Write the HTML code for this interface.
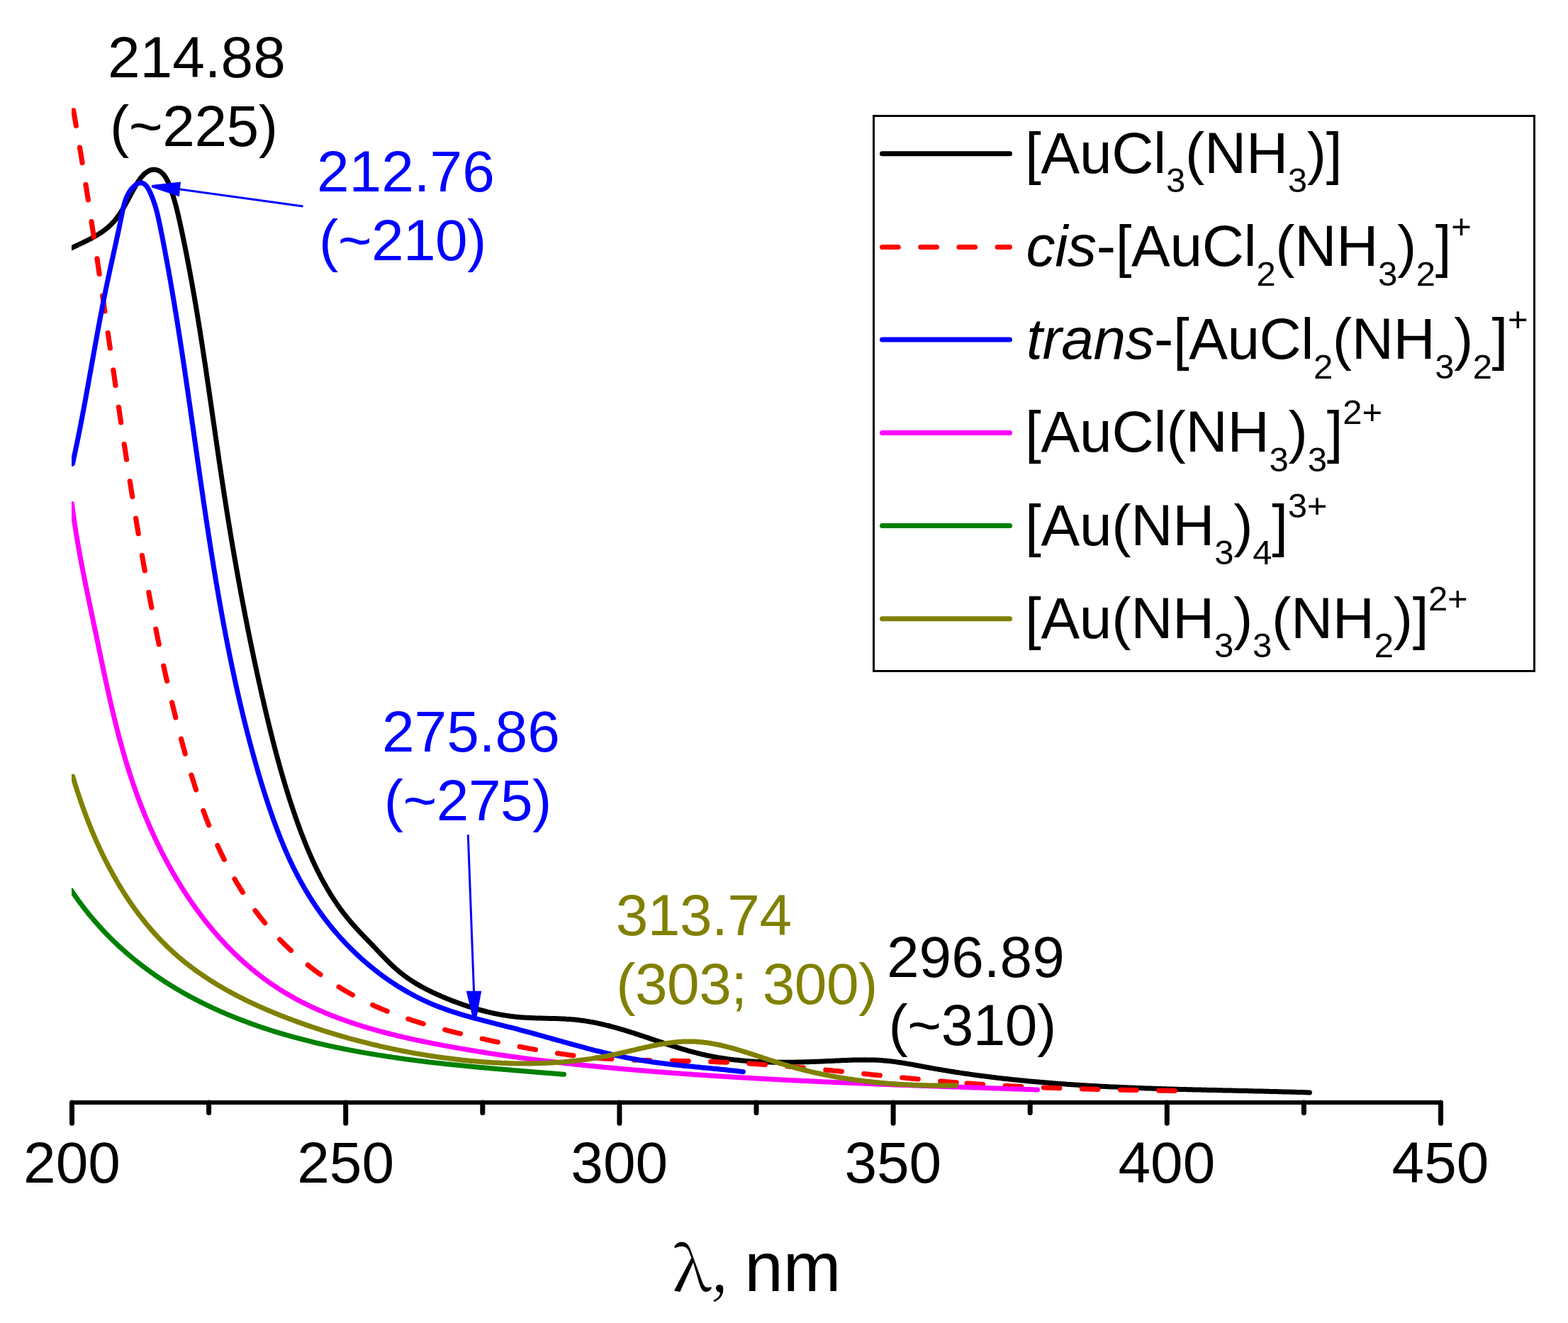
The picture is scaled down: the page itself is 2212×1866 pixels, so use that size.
<!DOCTYPE html>
<html><head><meta charset="utf-8"><title>UV-Vis spectra</title>
<style>
html,body{margin:0;padding:0;background:#fff;}
body{width:2212px;height:1866px;overflow:hidden;}
svg{display:block;}
text{font-family:"Liberation Sans",Arial,Helvetica,sans-serif;}
</style></head><body>
<svg xmlns="http://www.w3.org/2000/svg" width="2212" height="1866" viewBox="0 0 2212 1866">
<rect x="0" y="0" width="2212" height="1866" fill="#fff"/>
<defs><clipPath id="plotclip"><rect x="101" y="148" width="1940" height="1404"/></clipPath></defs>
<g clip-path="url(#plotclip)">
<path d="M101.07,349.7 L102.88,348.9 L104.69,348.0 L106.50,347.1 L108.31,346.3 L110.12,345.4 L111.93,344.6 L113.74,343.7 L115.55,342.9 L117.36,342.0 L119.16,341.1 L120.95,340.2 L122.75,339.3 L124.53,338.4 L126.31,337.5 L128.09,336.6 L129.85,335.6 L131.61,334.7 L133.35,333.7 L135.09,332.7 L136.81,331.7 L138.52,330.6 L140.21,329.6 L141.89,328.5 L143.56,327.4 L145.20,326.2 L146.82,325.0 L148.42,323.8 L150.00,322.6 L151.54,321.3 L153.06,320.0 L154.55,318.7 L156.00,317.3 L157.42,315.9 L158.81,314.4 L160.15,313.0 L161.47,311.4 L162.75,309.9 L164.00,308.3 L165.22,306.7 L166.41,305.1 L167.57,303.5 L168.71,301.9 L169.82,300.2 L170.90,298.5 L171.97,296.8 L173.02,295.1 L174.04,293.4 L175.06,291.7 L176.05,289.9 L177.04,288.2 L178.01,286.4 L178.98,284.7 L179.94,282.9 L180.89,281.2 L181.84,279.4 L182.79,277.6 L183.74,275.9 L184.68,274.1 L185.64,272.3 L186.59,270.6 L187.55,268.8 L188.52,267.1 L189.49,265.3 L190.48,263.6 L191.47,261.8 L192.49,260.1 L193.52,258.4 L194.58,256.7 L195.67,255.0 L196.81,253.4 L197.99,251.7 L199.22,250.2 L200.51,248.6 L201.86,247.2 L203.28,245.7 L204.78,244.4 L206.36,243.2 L208.01,242.0 L209.75,241.1 L211.57,240.2 L213.48,239.6 L215.45,239.2 L217.44,239.2 L219.44,239.3 L221.39,239.8 L223.28,240.4 L225.07,241.3 L226.75,242.4 L228.31,243.7 L229.75,245.1 L231.07,246.6 L232.29,248.2 L233.41,249.8 L234.44,251.5 L235.41,253.3 L236.31,255.1 L237.16,256.9 L237.96,258.7 L238.73,260.6 L239.46,262.4 L240.16,264.3 L240.84,266.2 L241.50,268.1 L242.14,270.0 L242.78,271.9 L243.40,273.8 L244.00,275.7 L244.59,277.6 L245.17,279.5 L245.74,281.5 L246.29,283.4 L246.84,285.3 L247.37,287.2 L247.89,289.2 L248.40,291.1 L248.90,293.0 L249.39,295.0 L249.87,296.9 L250.34,298.9 L250.81,300.8 L251.26,302.8 L251.72,304.7 L252.16,306.7 L252.60,308.6 L253.04,310.6 L253.47,312.5 L253.90,314.5 L254.33,316.5 L254.75,318.4 L255.18,320.4 L255.60,322.3 L256.02,324.3 L256.44,326.2 L256.85,328.2 L257.26,330.2 L257.68,332.1 L258.09,334.1 L258.49,336.0 L258.90,338.0 L259.30,340.0 L259.71,341.9 L260.11,343.9 L260.51,345.9 L260.90,347.8 L261.30,349.8 L261.69,351.7 L262.08,353.7 L262.47,355.7 L262.86,357.6 L263.25,359.6 L263.63,361.6 L264.01,363.5 L264.40,365.5 L264.77,367.5 L265.15,369.4 L265.53,371.4 L265.90,373.4 L266.28,375.3 L266.65,377.3 L267.02,379.3 L267.39,381.2 L267.75,383.2 L268.12,385.2 L268.48,387.2 L268.85,389.1 L269.21,391.1 L269.57,393.1 L269.92,395.0 L270.28,397.0 L270.64,399.0 L270.99,400.9 L271.34,402.9 L271.69,404.9 L272.04,406.9 L272.39,408.8 L272.74,410.8 L273.08,412.8 L273.43,414.8 L273.77,416.7 L274.11,418.7 L274.45,420.7 L274.79,422.6 L275.13,424.6 L275.46,426.6 L275.80,428.6 L276.13,430.5 L276.47,432.5 L276.80,434.5 L277.13,436.5 L277.46,438.4 L277.79,440.4 L278.12,442.4 L278.44,444.4 L278.77,446.3 L279.09,448.3 L279.42,450.3 L279.74,452.3 L280.06,454.3 L280.38,456.2 L280.70,458.2 L281.02,460.2 L281.33,462.2 L281.65,464.1 L281.97,466.1 L282.28,468.1 L282.59,470.1 L282.91,472.1 L283.22,474.0 L283.53,476.0 L283.84,478.0 L284.15,480.0 L284.46,481.9 L284.76,483.9 L285.07,485.9 L285.38,487.9 L285.68,489.9 L285.99,491.8 L286.29,493.8 L286.59,495.8 L286.90,497.8 L287.20,499.8 L287.50,501.7 L287.80,503.7 L288.10,505.7 L288.40,507.7 L288.70,509.7 L289.00,511.6 L289.29,513.6 L289.59,515.6 L289.89,517.6 L290.18,519.6 L290.48,521.5 L290.77,523.5 L291.07,525.5 L291.36,527.5 L291.65,529.5 L291.95,531.5 L292.24,533.4 L292.53,535.4 L292.82,537.4 L293.11,539.4 L293.41,541.4 L293.70,543.3 L293.99,545.3 L294.28,547.3 L294.57,549.3 L294.85,551.3 L295.14,553.3 L295.43,555.2 L295.72,557.2 L296.01,559.2 L296.30,561.2 L296.58,563.2 L296.87,565.1 L297.16,567.1 L297.44,569.1 L297.73,571.1 L298.02,573.1 L298.30,575.1 L298.59,577.0 L298.88,579.0 L299.16,581.0 L299.45,583.0 L299.74,585.0 L300.02,586.9 L300.31,588.9 L300.59,590.9 L300.88,592.9 L301.17,594.9 L301.45,596.9 L301.74,598.8 L302.02,600.8 L302.31,602.8 L302.60,604.8 L302.88,606.8 L303.17,608.8 L303.45,610.7 L303.74,612.7 L304.03,614.7 L304.31,616.7 L304.60,618.7 L304.89,620.6 L305.18,622.6 L305.46,624.6 L305.75,626.6 L306.04,628.6 L306.33,630.6 L306.62,632.5 L306.91,634.5 L307.20,636.5 L307.48,638.5 L307.77,640.5 L308.06,642.4 L308.36,644.4 L308.65,646.4 L308.94,648.4 L309.23,650.4 L309.52,652.4 L309.81,654.3 L310.11,656.3 L310.40,658.3 L310.69,660.3 L310.99,662.3 L311.28,664.2 L311.58,666.2 L311.87,668.2 L312.17,670.2 L312.47,672.2 L312.77,674.1 L313.06,676.1 L313.36,678.1 L313.66,680.1 L313.96,682.1 L314.26,684.0 L314.56,686.0 L314.87,688.0 L315.17,690.0 L315.47,692.0 L315.78,693.9 L316.08,695.9 L316.39,697.9 L316.69,699.9 L317.00,701.9 L317.31,703.8 L317.62,705.8 L317.93,707.8 L318.24,709.8 L318.55,711.8 L318.86,713.7 L319.17,715.7 L319.49,717.7 L319.80,719.7 L320.11,721.6 L320.43,723.6 L320.75,725.6 L321.06,727.6 L321.38,729.6 L321.70,731.5 L322.02,733.5 L322.34,735.5 L322.66,737.5 L322.98,739.4 L323.31,741.4 L323.63,743.4 L323.96,745.4 L324.28,747.3 L324.61,749.3 L324.93,751.3 L325.26,753.3 L325.59,755.3 L325.92,757.2 L326.25,759.2 L326.58,761.2 L326.92,763.2 L327.25,765.1 L327.58,767.1 L327.92,769.1 L328.25,771.1 L328.59,773.0 L328.93,775.0 L329.27,777.0 L329.60,778.9 L329.94,780.9 L330.29,782.9 L330.63,784.9 L330.97,786.8 L331.31,788.8 L331.66,790.8 L332.00,792.8 L332.35,794.7 L332.70,796.7 L333.04,798.7 L333.39,800.7 L333.74,802.6 L334.09,804.6 L334.45,806.6 L334.80,808.5 L335.15,810.5 L335.51,812.5 L335.86,814.5 L336.22,816.4 L336.58,818.4 L336.93,820.4 L337.29,822.3 L337.65,824.3 L338.01,826.3 L338.38,828.2 L338.74,830.2 L339.10,832.2 L339.47,834.2 L339.83,836.1 L340.20,838.1 L340.57,840.1 L340.94,842.0 L341.31,844.0 L341.68,846.0 L342.05,847.9 L342.42,849.9 L342.79,851.9 L343.17,853.8 L343.54,855.8 L343.92,857.8 L344.30,859.7 L344.68,861.7 L345.06,863.7 L345.44,865.6 L345.82,867.6 L346.20,869.6 L346.58,871.5 L346.97,873.5 L347.35,875.5 L347.74,877.4 L348.13,879.4 L348.52,881.4 L348.90,883.3 L349.30,885.3 L349.69,887.3 L350.08,889.2 L350.47,891.2 L350.87,893.1 L351.26,895.1 L351.66,897.1 L352.06,899.0 L352.46,901.0 L352.86,903.0 L353.26,904.9 L353.66,906.9 L354.06,908.8 L354.47,910.8 L354.87,912.8 L355.28,914.7 L355.68,916.7 L356.09,918.7 L356.50,920.6 L356.91,922.6 L357.32,924.5 L357.74,926.5 L358.15,928.5 L358.57,930.4 L358.98,932.4 L359.40,934.3 L359.82,936.3 L360.24,938.2 L360.66,940.2 L361.08,942.2 L361.50,944.1 L361.92,946.1 L362.35,948.0 L362.77,950.0 L363.20,952.0 L363.63,953.9 L364.06,955.9 L364.49,957.8 L364.92,959.8 L365.35,961.7 L365.79,963.7 L366.22,965.6 L366.66,967.6 L367.09,969.6 L367.53,971.5 L367.97,973.5 L368.41,975.4 L368.85,977.4 L369.30,979.3 L369.74,981.3 L370.18,983.2 L370.63,985.2 L371.08,987.1 L371.53,989.1 L371.98,991.0 L372.43,993.0 L372.88,994.9 L373.33,996.9 L373.79,998.8 L374.24,1000.8 L374.70,1002.7 L375.16,1004.7 L375.62,1006.6 L376.08,1008.6 L376.54,1010.5 L377.01,1012.5 L377.48,1014.4 L377.94,1016.4 L378.41,1018.3 L378.88,1020.3 L379.36,1022.2 L379.83,1024.2 L380.31,1026.1 L380.78,1028.1 L381.26,1030.0 L381.74,1031.9 L382.23,1033.9 L382.71,1035.8 L383.20,1037.8 L383.69,1039.7 L384.18,1041.7 L384.67,1043.6 L385.17,1045.5 L385.67,1047.5 L386.16,1049.4 L386.67,1051.4 L387.17,1053.3 L387.68,1055.2 L388.18,1057.2 L388.69,1059.1 L389.21,1061.0 L389.72,1063.0 L390.24,1064.9 L390.76,1066.8 L391.28,1068.8 L391.81,1070.7 L392.33,1072.6 L392.86,1074.6 L393.40,1076.5 L393.93,1078.4 L394.47,1080.4 L395.01,1082.3 L395.55,1084.2 L396.10,1086.2 L396.64,1088.1 L397.20,1090.0 L397.75,1091.9 L398.31,1093.9 L398.87,1095.8 L399.43,1097.7 L399.99,1099.6 L400.56,1101.5 L401.13,1103.5 L401.71,1105.4 L402.29,1107.3 L402.87,1109.2 L403.45,1111.1 L404.04,1113.0 L404.63,1115.0 L405.22,1116.9 L405.82,1118.8 L406.41,1120.7 L407.02,1122.6 L407.62,1124.5 L408.23,1126.4 L408.85,1128.3 L409.46,1130.2 L410.08,1132.1 L410.71,1134.0 L411.33,1135.9 L411.96,1137.8 L412.60,1139.7 L413.23,1141.6 L413.87,1143.5 L414.52,1145.4 L415.17,1147.3 L415.82,1149.2 L416.47,1151.1 L417.13,1153.0 L417.80,1154.9 L418.46,1156.8 L419.13,1158.7 L419.81,1160.6 L420.49,1162.4 L421.17,1164.3 L421.86,1166.2 L422.55,1168.1 L423.24,1170.0 L423.94,1171.8 L424.65,1173.7 L425.35,1175.6 L426.07,1177.5 L426.78,1179.3 L427.51,1181.2 L428.24,1183.1 L428.97,1184.9 L429.71,1186.8 L430.45,1188.7 L431.20,1190.5 L431.96,1192.4 L432.72,1194.2 L433.48,1196.1 L434.26,1197.9 L435.03,1199.8 L435.82,1201.6 L436.61,1203.4 L437.41,1205.3 L438.21,1207.1 L439.02,1208.9 L439.84,1210.8 L440.66,1212.6 L441.49,1214.4 L442.33,1216.2 L443.17,1218.1 L444.02,1219.9 L444.88,1221.7 L445.75,1223.5 L446.62,1225.3 L447.51,1227.1 L448.39,1228.9 L449.29,1230.7 L450.20,1232.5 L451.11,1234.2 L452.03,1236.0 L452.96,1237.8 L453.90,1239.6 L454.84,1241.3 L455.80,1243.1 L456.76,1244.8 L457.73,1246.6 L458.71,1248.3 L459.70,1250.1 L460.70,1251.8 L461.71,1253.6 L462.72,1255.3 L463.75,1257.0 L464.79,1258.7 L465.83,1260.4 L466.88,1262.1 L467.95,1263.8 L469.02,1265.5 L470.10,1267.2 L471.20,1268.9 L472.30,1270.5 L473.41,1272.2 L474.54,1273.9 L475.67,1275.5 L476.81,1277.2 L477.97,1278.8 L479.13,1280.4 L480.30,1282.1 L481.49,1283.7 L482.68,1285.3 L483.89,1286.9 L485.10,1288.5 L486.33,1290.1 L487.57,1291.6 L488.81,1293.2 L490.07,1294.8 L491.34,1296.3 L492.62,1297.8 L493.91,1299.4 L495.21,1300.9 L496.53,1302.4 L497.85,1303.9 L499.18,1305.4 L500.51,1306.9 L501.86,1308.4 L503.21,1309.9 L504.57,1311.3 L505.94,1312.8 L507.31,1314.3 L508.68,1315.7 L510.06,1317.2 L511.44,1318.6 L512.83,1320.1 L514.22,1321.5 L515.61,1323.0 L517.00,1324.4 L518.40,1325.8 L519.79,1327.3 L521.19,1328.7 L522.58,1330.1 L523.97,1331.6 L525.37,1333.0 L526.76,1334.5 L528.15,1335.9 L529.53,1337.4 L530.91,1338.8 L532.29,1340.3 L533.67,1341.7 L535.05,1343.2 L536.43,1344.6 L537.81,1346.1 L539.20,1347.5 L540.58,1349.0 L541.97,1350.4 L543.37,1351.8 L544.77,1353.3 L546.17,1354.7 L547.59,1356.1 L549.01,1357.5 L550.44,1358.9 L551.88,1360.3 L553.33,1361.7 L554.79,1363.1 L556.26,1364.4 L557.74,1365.8 L559.24,1367.1 L560.75,1368.4 L562.28,1369.7 L563.82,1371.0 L565.37,1372.3 L566.94,1373.5 L568.53,1374.7 L570.12,1375.9 L571.73,1377.1 L573.36,1378.3 L574.99,1379.5 L576.64,1380.6 L578.30,1381.7 L579.97,1382.8 L581.65,1383.9 L583.34,1385.0 L585.05,1386.0 L586.76,1387.1 L588.48,1388.1 L590.21,1389.1 L591.94,1390.1 L593.69,1391.1 L595.44,1392.1 L597.20,1393.0 L598.97,1393.9 L600.75,1394.9 L602.53,1395.8 L604.32,1396.7 L606.11,1397.6 L607.91,1398.5 L609.72,1399.3 L611.53,1400.2 L613.35,1401.0 L615.17,1401.9 L616.99,1402.7 L618.82,1403.5 L620.66,1404.3 L622.50,1405.1 L624.34,1405.9 L626.18,1406.7 L628.03,1407.4 L629.89,1408.2 L631.74,1408.9 L633.60,1409.7 L635.46,1410.4 L637.33,1411.2 L639.20,1411.9 L641.07,1412.6 L642.94,1413.3 L644.82,1414.0 L646.70,1414.7 L648.58,1415.4 L650.47,1416.0 L652.36,1416.7 L654.25,1417.4 L656.15,1418.0 L658.05,1418.6 L659.95,1419.3 L661.85,1419.9 L663.76,1420.5 L665.67,1421.1 L667.59,1421.7 L669.51,1422.3 L671.43,1422.8 L673.35,1423.4 L675.28,1423.9 L677.21,1424.5 L679.14,1425.0 L681.07,1425.5 L683.01,1426.0 L684.95,1426.5 L686.90,1427.0 L688.85,1427.4 L690.80,1427.9 L692.75,1428.4 L694.70,1428.8 L696.66,1429.2 L698.62,1429.6 L700.58,1430.0 L702.55,1430.4 L704.52,1430.8 L706.49,1431.1 L708.46,1431.5 L710.44,1431.8 L712.41,1432.1 L714.39,1432.4 L716.37,1432.7 L718.36,1433.0 L720.34,1433.3 L722.33,1433.5 L724.32,1433.8 L726.31,1434.0 L728.30,1434.2 L730.29,1434.4 L732.29,1434.6 L734.28,1434.7 L736.28,1434.9 L738.28,1435.0 L740.28,1435.2 L742.28,1435.3 L744.28,1435.4 L746.28,1435.5 L748.28,1435.6 L750.28,1435.7 L752.28,1435.8 L754.28,1435.8 L756.28,1435.9 L758.28,1436.0 L760.29,1436.0 L762.29,1436.1 L764.29,1436.1 L766.29,1436.2 L768.29,1436.2 L770.30,1436.3 L772.30,1436.3 L774.30,1436.4 L776.30,1436.4 L778.31,1436.5 L780.31,1436.5 L782.31,1436.6 L784.31,1436.6 L786.31,1436.7 L788.32,1436.8 L790.32,1436.8 L792.32,1436.9 L794.32,1437.0 L796.32,1437.1 L798.32,1437.2 L800.32,1437.4 L802.32,1437.5 L804.31,1437.6 L806.31,1437.8 L808.31,1437.9 L810.30,1438.1 L812.30,1438.3 L814.29,1438.5 L816.28,1438.7 L818.27,1439.0 L820.25,1439.2 L822.24,1439.5 L824.22,1439.8 L826.20,1440.1 L828.18,1440.4 L830.16,1440.7 L832.13,1441.1 L834.10,1441.4 L836.07,1441.8 L838.04,1442.1 L840.00,1442.5 L841.96,1442.9 L843.92,1443.4 L845.88,1443.8 L847.84,1444.2 L849.79,1444.7 L851.74,1445.1 L853.69,1445.6 L855.63,1446.1 L857.58,1446.5 L859.52,1447.0 L861.45,1447.5 L863.39,1448.1 L865.32,1448.6 L867.26,1449.1 L869.19,1449.6 L871.11,1450.2 L873.04,1450.7 L874.96,1451.3 L876.88,1451.9 L878.80,1452.4 L880.72,1453.0 L882.64,1453.6 L884.55,1454.2 L886.47,1454.8 L888.38,1455.4 L890.29,1456.0 L892.20,1456.6 L894.10,1457.2 L896.01,1457.8 L897.92,1458.4 L899.82,1459.0 L901.72,1459.7 L903.63,1460.3 L905.53,1460.9 L907.43,1461.5 L909.33,1462.2 L911.23,1462.8 L913.13,1463.4 L915.03,1464.1 L916.93,1464.7 L918.82,1465.4 L920.72,1466.0 L922.62,1466.6 L924.52,1467.3 L926.42,1467.9 L928.32,1468.5 L930.22,1469.2 L932.12,1469.8 L934.02,1470.4 L935.92,1471.1 L937.82,1471.7 L939.72,1472.3 L941.63,1473.0 L943.53,1473.6 L945.44,1474.2 L947.34,1474.8 L949.25,1475.4 L951.16,1476.0 L953.07,1476.6 L954.98,1477.2 L956.90,1477.8 L958.81,1478.4 L960.73,1479.0 L962.65,1479.5 L964.57,1480.1 L966.49,1480.7 L968.41,1481.2 L970.34,1481.8 L972.27,1482.3 L974.20,1482.9 L976.13,1483.4 L978.07,1483.9 L980.00,1484.4 L981.94,1484.9 L983.88,1485.4 L985.83,1485.9 L987.77,1486.4 L989.72,1486.8 L991.67,1487.3 L993.62,1487.7 L995.58,1488.2 L997.54,1488.6 L999.50,1489.0 L1001.46,1489.4 L1003.42,1489.8 L1005.39,1490.2 L1007.36,1490.5 L1009.33,1490.9 L1011.30,1491.2 L1013.28,1491.6 L1015.25,1491.9 L1017.23,1492.2 L1019.21,1492.5 L1021.19,1492.8 L1023.17,1493.1 L1025.15,1493.4 L1027.14,1493.7 L1029.12,1493.9 L1031.11,1494.2 L1033.10,1494.4 L1035.09,1494.7 L1037.08,1494.9 L1039.07,1495.1 L1041.06,1495.3 L1043.05,1495.5 L1045.04,1495.7 L1047.04,1495.9 L1049.03,1496.1 L1051.03,1496.3 L1053.02,1496.4 L1055.02,1496.6 L1057.02,1496.7 L1059.02,1496.9 L1061.02,1497.0 L1063.01,1497.1 L1065.01,1497.2 L1067.01,1497.4 L1069.01,1497.5 L1071.01,1497.6 L1073.01,1497.6 L1075.02,1497.7 L1077.02,1497.8 L1079.02,1497.9 L1081.02,1497.9 L1083.02,1498.0 L1085.02,1498.1 L1087.03,1498.1 L1089.03,1498.2 L1091.03,1498.2 L1093.03,1498.2 L1095.04,1498.2 L1097.04,1498.3 L1099.04,1498.3 L1101.05,1498.3 L1103.05,1498.3 L1105.05,1498.3 L1107.05,1498.3 L1109.06,1498.3 L1111.06,1498.3 L1113.06,1498.3 L1115.06,1498.3 L1117.07,1498.2 L1119.07,1498.2 L1121.07,1498.2 L1123.08,1498.1 L1125.08,1498.1 L1127.08,1498.1 L1129.08,1498.0 L1131.08,1498.0 L1133.09,1497.9 L1135.09,1497.8 L1137.09,1497.8 L1139.09,1497.7 L1141.09,1497.7 L1143.10,1497.6 L1145.10,1497.5 L1147.10,1497.5 L1149.10,1497.4 L1151.10,1497.3 L1153.10,1497.2 L1155.10,1497.2 L1157.11,1497.1 L1159.11,1497.0 L1161.11,1496.9 L1163.11,1496.8 L1165.11,1496.7 L1167.11,1496.6 L1169.11,1496.6 L1171.11,1496.5 L1173.11,1496.4 L1175.11,1496.3 L1177.11,1496.2 L1179.11,1496.1 L1181.12,1496.0 L1183.12,1495.9 L1185.12,1495.8 L1187.12,1495.7 L1189.12,1495.6 L1191.12,1495.5 L1193.12,1495.5 L1195.12,1495.4 L1197.12,1495.3 L1199.12,1495.2 L1201.13,1495.2 L1203.13,1495.1 L1205.13,1495.1 L1207.13,1495.0 L1209.14,1495.0 L1211.14,1494.9 L1213.14,1494.9 L1215.14,1494.9 L1217.15,1494.9 L1219.15,1494.8 L1221.15,1494.9 L1223.15,1494.9 L1225.16,1494.9 L1227.16,1494.9 L1229.16,1495.0 L1231.16,1495.0 L1233.17,1495.1 L1235.17,1495.1 L1237.17,1495.2 L1239.17,1495.3 L1241.17,1495.5 L1243.17,1495.6 L1245.16,1495.7 L1247.16,1495.9 L1249.16,1496.0 L1251.15,1496.2 L1253.14,1496.4 L1255.14,1496.6 L1257.13,1496.9 L1259.11,1497.1 L1261.10,1497.4 L1263.09,1497.6 L1265.07,1497.9 L1267.05,1498.2 L1269.03,1498.5 L1271.01,1498.8 L1272.99,1499.1 L1274.97,1499.4 L1276.95,1499.7 L1278.92,1500.1 L1280.90,1500.4 L1282.87,1500.7 L1284.84,1501.1 L1286.81,1501.4 L1288.78,1501.8 L1290.75,1502.2 L1292.72,1502.5 L1294.69,1502.9 L1296.66,1503.3 L1298.63,1503.6 L1300.60,1504.0 L1302.57,1504.4 L1304.54,1504.7 L1306.51,1505.1 L1308.47,1505.5 L1310.44,1505.8 L1312.42,1506.2 L1314.39,1506.5 L1316.36,1506.9 L1318.33,1507.2 L1320.30,1507.6 L1322.28,1507.9 L1324.25,1508.3 L1326.22,1508.6 L1328.20,1508.9 L1330.17,1509.3 L1332.15,1509.6 L1334.12,1509.9 L1336.10,1510.3 L1338.08,1510.6 L1340.05,1510.9 L1342.03,1511.2 L1344.01,1511.5 L1345.99,1511.8 L1347.97,1512.2 L1349.95,1512.5 L1351.93,1512.8 L1353.91,1513.1 L1355.89,1513.4 L1357.87,1513.7 L1359.85,1514.0 L1361.83,1514.2 L1363.81,1514.5 L1365.79,1514.8 L1367.78,1515.1 L1369.76,1515.4 L1371.74,1515.7 L1373.73,1515.9 L1375.71,1516.2 L1377.70,1516.5 L1379.68,1516.7 L1381.67,1517.0 L1383.65,1517.3 L1385.64,1517.5 L1387.62,1517.8 L1389.61,1518.0 L1391.60,1518.3 L1393.58,1518.6 L1395.57,1518.8 L1397.56,1519.0 L1399.55,1519.3 L1401.53,1519.5 L1403.52,1519.8 L1405.51,1520.0 L1407.50,1520.2 L1409.49,1520.5 L1411.48,1520.7 L1413.47,1520.9 L1415.46,1521.2 L1417.45,1521.4 L1419.44,1521.6 L1421.43,1521.8 L1423.42,1522.0 L1425.41,1522.3 L1427.40,1522.5 L1429.40,1522.7 L1431.39,1522.9 L1433.38,1523.1 L1435.37,1523.3 L1437.36,1523.5 L1439.36,1523.7 L1441.35,1523.9 L1443.34,1524.1 L1445.34,1524.3 L1447.33,1524.5 L1449.32,1524.7 L1451.32,1524.9 L1453.31,1525.1 L1455.31,1525.2 L1457.30,1525.4 L1459.30,1525.6 L1461.29,1525.8 L1463.29,1526.0 L1465.28,1526.1 L1467.28,1526.3 L1469.27,1526.5 L1471.27,1526.6 L1473.26,1526.8 L1475.26,1527.0 L1477.25,1527.1 L1479.25,1527.3 L1481.25,1527.5 L1483.24,1527.6 L1485.24,1527.8 L1487.24,1527.9 L1489.23,1528.1 L1491.23,1528.2 L1493.23,1528.4 L1495.23,1528.5 L1497.22,1528.7 L1499.22,1528.8 L1501.22,1529.0 L1503.22,1529.1 L1505.21,1529.3 L1507.21,1529.4 L1509.21,1529.5 L1511.21,1529.7 L1513.21,1529.8 L1515.21,1529.9 L1517.20,1530.1 L1519.20,1530.2 L1521.20,1530.3 L1523.20,1530.4 L1525.20,1530.6 L1527.20,1530.7 L1529.20,1530.8 L1531.20,1530.9 L1533.20,1531.0 L1535.20,1531.2 L1537.20,1531.3 L1539.20,1531.4 L1541.19,1531.5 L1543.19,1531.6 L1545.19,1531.7 L1547.19,1531.8 L1549.19,1531.9 L1551.19,1532.1 L1553.19,1532.2 L1555.19,1532.3 L1557.19,1532.4 L1559.19,1532.5 L1561.19,1532.6 L1563.20,1532.7 L1565.20,1532.8 L1567.20,1532.9 L1569.20,1533.0 L1571.20,1533.0 L1573.20,1533.1 L1575.20,1533.2 L1577.20,1533.3 L1579.20,1533.4 L1581.20,1533.5 L1583.20,1533.6 L1585.20,1533.7 L1587.20,1533.8 L1589.21,1533.8 L1591.21,1533.9 L1593.21,1534.0 L1595.21,1534.1 L1597.21,1534.2 L1599.21,1534.3 L1601.21,1534.3 L1603.21,1534.4 L1605.21,1534.5 L1607.22,1534.6 L1609.22,1534.6 L1611.22,1534.7 L1613.22,1534.8 L1615.22,1534.9 L1617.22,1534.9 L1619.23,1535.0 L1621.23,1535.1 L1623.23,1535.1 L1625.23,1535.2 L1627.23,1535.3 L1629.23,1535.3 L1631.24,1535.4 L1633.24,1535.5 L1635.24,1535.5 L1637.24,1535.6 L1639.24,1535.7 L1641.24,1535.7 L1643.25,1535.8 L1645.25,1535.8 L1647.25,1535.9 L1649.25,1536.0 L1651.25,1536.0 L1653.26,1536.1 L1655.26,1536.1 L1657.26,1536.2 L1659.26,1536.2 L1661.26,1536.3 L1663.27,1536.4 L1665.27,1536.4 L1667.27,1536.5 L1669.27,1536.5 L1671.27,1536.6 L1673.28,1536.6 L1675.28,1536.7 L1677.28,1536.7 L1679.28,1536.8 L1681.29,1536.8 L1683.29,1536.9 L1685.29,1536.9 L1687.29,1537.0 L1689.29,1537.0 L1691.30,1537.1 L1693.30,1537.1 L1695.30,1537.2 L1697.30,1537.2 L1699.31,1537.3 L1701.31,1537.3 L1703.31,1537.4 L1705.31,1537.4 L1707.31,1537.5 L1709.32,1537.5 L1711.32,1537.6 L1713.32,1537.6 L1715.32,1537.6 L1717.33,1537.7 L1719.33,1537.7 L1721.33,1537.8 L1723.33,1537.8 L1725.34,1537.9 L1727.34,1537.9 L1729.34,1538.0 L1731.34,1538.0 L1733.34,1538.1 L1735.35,1538.1 L1737.35,1538.1 L1739.35,1538.2 L1741.35,1538.2 L1743.36,1538.3 L1745.36,1538.3 L1747.36,1538.4 L1749.36,1538.4 L1751.37,1538.5 L1753.37,1538.5 L1755.37,1538.5 L1757.37,1538.6 L1759.37,1538.6 L1761.38,1538.7 L1763.38,1538.7 L1765.38,1538.8 L1767.38,1538.8 L1769.39,1538.9 L1771.39,1538.9 L1773.39,1539.0 L1775.39,1539.0 L1777.40,1539.1 L1779.40,1539.1 L1781.40,1539.1 L1783.40,1539.2 L1785.40,1539.2 L1787.41,1539.3 L1789.41,1539.3 L1791.41,1539.4 L1793.41,1539.4 L1795.42,1539.5 L1797.42,1539.5 L1799.42,1539.6 L1801.42,1539.6 L1803.42,1539.7 L1805.43,1539.7 L1807.43,1539.8 L1809.43,1539.9 L1811.43,1539.9 L1813.43,1540.0 L1815.44,1540.0 L1817.44,1540.1 L1819.44,1540.1 L1821.44,1540.2 L1823.45,1540.2 L1825.45,1540.3 L1827.45,1540.3 L1829.45,1540.4 L1831.45,1540.5 L1833.45,1540.5 L1835.46,1540.6 L1837.46,1540.6 L1839.46,1540.7 L1841.46,1540.8 L1843.46,1540.8 L1845.47,1540.9 L1847.47,1541.0" fill="none" stroke="#000000" stroke-width="7" stroke-linecap="round" stroke-linejoin="round"/>
<path transform="scale(1.025,1)" d="M99.82,148.5 L100.16,150.5 L100.50,152.5 L100.84,154.4 L101.18,156.4 L101.52,158.4 L101.85,160.3 L102.19,162.3 L102.52,164.3 L102.86,166.3 L103.19,168.2 L103.52,170.2 L103.86,172.2 L104.19,174.2 L104.52,176.1 L104.85,178.1 L105.18,180.1 L105.51,182.1 L105.83,184.0 L106.16,186.0 L106.49,188.0 L106.81,190.0 L107.14,191.9 L107.46,193.9 L107.79,195.9 L108.11,197.9 L108.43,199.8 L108.76,201.8 L109.08,203.8 L109.40,205.8 L109.72,207.7 L110.04,209.7 L110.36,211.7 L110.68,213.7 L110.99,215.6 L111.31,217.6 L111.63,219.6 L111.95,221.6 L112.26,223.5 L112.58,225.5 L112.89,227.5 L113.20,229.5 L113.52,231.4 L113.83,233.4 L114.14,235.4 L114.46,237.4 L114.77,239.4 L115.08,241.3 L115.39,243.3 L115.70,245.3 L116.01,247.3 L116.32,249.2 L116.62,251.2 L116.93,253.2 L117.24,255.2 L117.55,257.1 L117.85,259.1 L118.16,261.1 L118.46,263.1 L118.77,265.1 L119.07,267.0 L119.38,269.0 L119.68,271.0 L119.98,273.0 L120.29,275.0 L120.59,276.9 L120.89,278.9 L121.19,280.9 L121.49,282.9 L121.79,284.8 L122.09,286.8 L122.39,288.8 L122.69,290.8 L122.99,292.8 L123.29,294.7 L123.59,296.7 L123.88,298.7 L124.18,300.7 L124.48,302.7 L124.77,304.6 L125.07,306.6 L125.37,308.6 L125.66,310.6 L125.96,312.6 L126.25,314.5 L126.54,316.5 L126.84,318.5 L127.13,320.5 L127.42,322.5 L127.72,324.4 L128.01,326.4 L128.30,328.4 L128.59,330.4 L128.89,332.4 L129.18,334.3 L129.47,336.3 L129.76,338.3 L130.05,340.3 L130.34,342.3 L130.63,344.2 L130.92,346.2 L131.21,348.2 L131.50,350.2 L131.78,352.2 L132.07,354.1 L132.36,356.1 L132.65,358.1 L132.93,360.1 L133.22,362.1 L133.51,364.0 L133.80,366.0 L134.08,368.0 L134.37,370.0 L134.65,372.0 L134.94,374.0 L135.23,375.9 L135.51,377.9 L135.80,379.9 L136.08,381.9 L136.37,383.9 L136.65,385.8 L136.93,387.8 L137.22,389.8 L137.50,391.8 L137.79,393.8 L138.07,395.7 L138.35,397.7 L138.63,399.7 L138.92,401.7 L139.20,403.7 L139.48,405.7 L139.77,407.6 L140.05,409.6 L140.33,411.6 L140.61,413.6 L140.89,415.6 L141.18,417.5 L141.46,419.5 L141.74,421.5 L142.02,423.5 L142.30,425.5 L142.58,427.5 L142.86,429.4 L143.14,431.4 L143.42,433.4 L143.71,435.4 L143.99,437.4 L144.27,439.3 L144.55,441.3 L144.83,443.3 L145.11,445.3 L145.39,447.3 L145.67,449.3 L145.95,451.2 L146.23,453.2 L146.51,455.2 L146.79,457.2 L147.07,459.2 L147.35,461.1 L147.63,463.1 L147.91,465.1 L148.19,467.1 L148.47,469.1 L148.75,471.1 L149.03,473.0 L149.30,475.0 L149.58,477.0 L149.86,479.0 L150.14,481.0 L150.42,482.9 L150.70,484.9 L150.98,486.9 L151.26,488.9 L151.54,490.9 L151.82,492.9 L152.10,494.8 L152.38,496.8 L152.66,498.8 L152.94,500.8 L153.22,502.8 L153.50,504.8 L153.78,506.7 L154.06,508.7 L154.34,510.7 L154.62,512.7 L154.90,514.7 L155.18,516.6 L155.46,518.6 L155.74,520.6 L156.02,522.6 L156.30,524.6 L156.58,526.6 L156.86,528.5 L157.15,530.5 L157.43,532.5 L157.71,534.5 L157.99,536.5 L158.27,538.4 L158.55,540.4 L158.83,542.4 L159.12,544.4 L159.40,546.4 L159.68,548.4 L159.96,550.3 L160.24,552.3 L160.53,554.3 L160.81,556.3 L161.09,558.3 L161.38,560.2 L161.66,562.2 L161.94,564.2 L162.23,566.2 L162.51,568.2 L162.79,570.1 L163.08,572.1 L163.36,574.1 L163.65,576.1 L163.93,578.1 L164.22,580.1 L164.50,582.0 L164.79,584.0 L165.07,586.0 L165.36,588.0 L165.64,590.0 L165.93,591.9 L166.22,593.9 L166.50,595.9 L166.79,597.9 L167.08,599.9 L167.37,601.8 L167.65,603.8 L167.94,605.8 L168.23,607.8 L168.52,609.8 L168.81,611.8 L169.10,613.7 L169.39,615.7 L169.68,617.7 L169.97,619.7 L170.26,621.7 L170.55,623.6 L170.84,625.6 L171.13,627.6 L171.42,629.6 L171.72,631.6 L172.01,633.5 L172.30,635.5 L172.59,637.5 L172.89,639.5 L173.18,641.5 L173.48,643.4 L173.77,645.4 L174.07,647.4 L174.36,649.4 L174.66,651.4 L174.95,653.3 L175.25,655.3 L175.54,657.3 L175.84,659.3 L176.14,661.3 L176.44,663.2 L176.74,665.2 L177.03,667.2 L177.33,669.2 L177.63,671.1 L177.93,673.1 L178.23,675.1 L178.53,677.1 L178.84,679.1 L179.14,681.0 L179.44,683.0 L179.74,685.0 L180.05,687.0 L180.35,689.0 L180.65,690.9 L180.96,692.9 L181.26,694.9 L181.57,696.9 L181.87,698.8 L182.18,700.8 L182.49,702.8 L182.80,704.8 L183.10,706.8 L183.41,708.7 L183.72,710.7 L184.03,712.7 L184.34,714.7 L184.65,716.6 L184.96,718.6 L185.28,720.6 L185.59,722.6 L185.90,724.6 L186.22,726.5 L186.53,728.5 L186.84,730.5 L187.16,732.5 L187.48,734.4 L187.79,736.4 L188.11,738.4 L188.43,740.4 L188.75,742.3 L189.07,744.3 L189.39,746.3 L189.71,748.3 L190.03,750.2 L190.35,752.2 L190.68,754.2 L191.00,756.2 L191.32,758.1 L191.65,760.1 L191.98,762.1 L192.30,764.1 L192.63,766.0 L192.96,768.0 L193.29,770.0 L193.62,772.0 L193.95,773.9 L194.28,775.9 L194.61,777.9 L194.94,779.9 L195.28,781.8 L195.61,783.8 L195.95,785.8 L196.28,787.7 L196.62,789.7 L196.96,791.7 L197.29,793.7 L197.63,795.6 L197.97,797.6 L198.32,799.6 L198.66,801.6 L199.00,803.5 L199.34,805.5 L199.69,807.5 L200.03,809.4 L200.38,811.4 L200.73,813.4 L201.08,815.3 L201.42,817.3 L201.77,819.3 L202.13,821.3 L202.48,823.2 L202.83,825.2 L203.18,827.2 L203.54,829.1 L203.89,831.1 L204.25,833.1 L204.61,835.0 L204.97,837.0 L205.33,839.0 L205.69,841.0 L206.05,842.9 L206.41,844.9 L206.78,846.9 L207.14,848.8 L207.51,850.8 L207.87,852.8 L208.24,854.7 L208.61,856.7 L208.98,858.7 L209.35,860.6 L209.72,862.6 L210.10,864.6 L210.47,866.5 L210.84,868.5 L211.22,870.5 L211.60,872.4 L211.98,874.4 L212.36,876.3 L212.74,878.3 L213.12,880.3 L213.50,882.2 L213.89,884.2 L214.27,886.2 L214.66,888.1 L215.05,890.1 L215.43,892.1 L215.82,894.0 L216.22,896.0 L216.61,897.9 L217.00,899.9 L217.40,901.9 L217.79,903.8 L218.19,905.8 L218.59,907.7 L218.99,909.7 L219.39,911.7 L219.79,913.6 L220.19,915.6 L220.60,917.5 L221.00,919.5 L221.41,921.5 L221.82,923.4 L222.23,925.4 L222.64,927.3 L223.05,929.3 L223.46,931.3 L223.88,933.2 L224.29,935.2 L224.71,937.1 L225.13,939.1 L225.55,941.0 L225.97,943.0 L226.39,944.9 L226.82,946.9 L227.24,948.9 L227.67,950.8 L228.09,952.8 L228.52,954.7 L228.95,956.7 L229.39,958.6 L229.82,960.6 L230.25,962.5 L230.69,964.5 L231.13,966.4 L231.56,968.4 L232.00,970.3 L232.45,972.3 L232.89,974.2 L233.33,976.2 L233.78,978.1 L234.22,980.1 L234.67,982.0 L235.12,984.0 L235.57,985.9 L236.03,987.9 L236.48,989.8 L236.94,991.8 L237.39,993.7 L237.85,995.7 L238.31,997.6 L238.77,999.6 L239.23,1001.5 L239.70,1003.5 L240.16,1005.4 L240.63,1007.3 L241.10,1009.3 L241.57,1011.2 L242.04,1013.2 L242.51,1015.1 L242.99,1017.1 L243.46,1019.0 L243.94,1020.9 L244.42,1022.9 L244.90,1024.8 L245.39,1026.8 L245.87,1028.7 L246.36,1030.6 L246.85,1032.6 L247.34,1034.5 L247.83,1036.5 L248.33,1038.4 L248.82,1040.3 L249.32,1042.3 L249.82,1044.2 L250.33,1046.1 L250.83,1048.1 L251.34,1050.0 L251.85,1051.9 L252.36,1053.9 L252.88,1055.8 L253.39,1057.7 L253.91,1059.7 L254.44,1061.6 L254.96,1063.5 L255.49,1065.5 L256.02,1067.4 L256.55,1069.3 L257.09,1071.2 L257.63,1073.2 L258.17,1075.1 L258.71,1077.0 L259.26,1078.9 L259.81,1080.9 L260.36,1082.8 L260.92,1084.7 L261.48,1086.6 L262.04,1088.5 L262.60,1090.5 L263.17,1092.4 L263.75,1094.3 L264.32,1096.2 L264.90,1098.1 L265.48,1100.0 L266.07,1101.9 L266.66,1103.8 L267.25,1105.7 L267.84,1107.7 L268.44,1109.6 L269.05,1111.5 L269.65,1113.4 L270.27,1115.3 L270.88,1117.2 L271.50,1119.1 L272.12,1121.0 L272.75,1122.9 L273.38,1124.8 L274.01,1126.7 L274.65,1128.6 L275.29,1130.4 L275.94,1132.3 L276.59,1134.2 L277.24,1136.1 L277.90,1138.0 L278.57,1139.9 L279.23,1141.8 L279.91,1143.6 L280.58,1145.5 L281.26,1147.4 L281.95,1149.3 L282.64,1151.1 L283.34,1153.0 L284.04,1154.9 L284.74,1156.8 L285.45,1158.6 L286.16,1160.5 L286.88,1162.3 L287.61,1164.2 L288.34,1166.1 L289.07,1167.9 L289.81,1169.8 L290.55,1171.6 L291.30,1173.5 L292.06,1175.3 L292.82,1177.2 L293.58,1179.0 L294.35,1180.9 L295.13,1182.7 L295.91,1184.5 L296.69,1186.4 L297.49,1188.2 L298.28,1190.0 L299.09,1191.8 L299.89,1193.7 L300.71,1195.5 L301.53,1197.3 L302.36,1199.1 L303.19,1200.9 L304.02,1202.7 L304.87,1204.5 L305.72,1206.4 L306.57,1208.2 L307.43,1209.9 L308.30,1211.7 L309.18,1213.5 L310.06,1215.3 L310.94,1217.1 L311.83,1218.9 L312.73,1220.7 L313.64,1222.4 L314.55,1224.2 L315.47,1226.0 L316.39,1227.7 L317.32,1229.5 L318.26,1231.3 L319.20,1233.0 L320.15,1234.8 L321.11,1236.5 L322.08,1238.3 L323.05,1240.0 L324.02,1241.7 L325.01,1243.5 L326.00,1245.2 L327.00,1246.9 L328.00,1248.6 L329.01,1250.3 L330.03,1252.0 L331.06,1253.7 L332.09,1255.4 L333.13,1257.1 L334.18,1258.8 L335.23,1260.5 L336.29,1262.2 L337.36,1263.9 L338.44,1265.5 L339.52,1267.2 L340.61,1268.9 L341.71,1270.5 L342.81,1272.2 L343.93,1273.8 L345.05,1275.5 L346.17,1277.1 L347.31,1278.7 L348.45,1280.4 L349.60,1282.0 L350.76,1283.6 L351.92,1285.2 L353.09,1286.8 L354.27,1288.4 L355.46,1290.0 L356.65,1291.6 L357.86,1293.2 L359.06,1294.7 L360.28,1296.3 L361.51,1297.9 L362.74,1299.4 L363.98,1301.0 L365.23,1302.5 L366.48,1304.0 L367.74,1305.6 L369.01,1307.1 L370.29,1308.6 L371.58,1310.1 L372.87,1311.6 L374.17,1313.1 L375.47,1314.6 L376.79,1316.1 L378.11,1317.6 L379.43,1319.0 L380.77,1320.5 L382.11,1321.9 L383.46,1323.4 L384.81,1324.8 L386.17,1326.3 L387.54,1327.7 L388.92,1329.1 L390.30,1330.5 L391.69,1332.0 L393.08,1333.4 L394.48,1334.8 L395.89,1336.1 L397.30,1337.5 L398.73,1338.9 L400.15,1340.3 L401.59,1341.6 L403.02,1343.0 L404.47,1344.3 L405.92,1345.7 L407.38,1347.0 L408.84,1348.3 L410.31,1349.6 L411.79,1351.0 L413.27,1352.3 L414.76,1353.6 L416.25,1354.9 L417.75,1356.1 L419.26,1357.4 L420.77,1358.7 L422.29,1359.9 L423.81,1361.2 L425.34,1362.4 L426.87,1363.7 L428.41,1364.9 L429.96,1366.1 L431.51,1367.4 L433.06,1368.6 L434.62,1369.8 L436.19,1371.0 L437.76,1372.2 L439.34,1373.3 L440.92,1374.5 L442.51,1375.7 L444.10,1376.9 L445.70,1378.0 L447.31,1379.1 L448.91,1380.3 L450.53,1381.4 L452.15,1382.5 L453.77,1383.7 L455.40,1384.8 L457.03,1385.9 L458.67,1386.9 L460.31,1388.0 L461.96,1389.1 L463.61,1390.2 L465.27,1391.2 L466.93,1392.3 L468.60,1393.3 L470.27,1394.4 L471.94,1395.4 L473.62,1396.4 L475.31,1397.4 L477.00,1398.4 L478.69,1399.4 L480.39,1400.4 L482.09,1401.4 L483.80,1402.4 L485.51,1403.4 L487.22,1404.3 L488.94,1405.3 L490.67,1406.2 L492.39,1407.2 L494.13,1408.1 L495.86,1409.0 L497.60,1409.9 L499.35,1410.8 L501.10,1411.7 L502.85,1412.6 L504.60,1413.5 L506.36,1414.3 L508.13,1415.2 L509.90,1416.1 L511.67,1416.9 L513.44,1417.7 L515.22,1418.6 L517.00,1419.4 L518.79,1420.2 L520.58,1421.0 L522.37,1421.8 L524.17,1422.6 L525.97,1423.4 L527.77,1424.1 L529.58,1424.9 L531.39,1425.6 L533.20,1426.4 L535.01,1427.1 L536.83,1427.9 L538.65,1428.6 L540.48,1429.3 L542.30,1430.0 L544.13,1430.7 L545.96,1431.4 L547.80,1432.1 L549.63,1432.8 L551.47,1433.5 L553.31,1434.2 L555.16,1434.8 L557.00,1435.5 L558.85,1436.1 L560.70,1436.8 L562.55,1437.4 L564.40,1438.0 L566.26,1438.7 L568.12,1439.3 L569.98,1439.9 L571.84,1440.5 L573.70,1441.1 L575.56,1441.7 L577.43,1442.3 L579.30,1442.9 L581.17,1443.5 L583.04,1444.1 L584.91,1444.6 L586.79,1445.2 L588.66,1445.8 L590.54,1446.3 L592.42,1446.9 L594.30,1447.4 L596.18,1448.0 L598.06,1448.5 L599.94,1449.0 L601.83,1449.6 L603.71,1450.1 L605.60,1450.6 L607.48,1451.1 L609.37,1451.6 L611.26,1452.1 L613.15,1452.7 L615.04,1453.2 L616.94,1453.7 L618.83,1454.2 L620.72,1454.6 L622.62,1455.1 L624.51,1455.6 L626.41,1456.1 L628.31,1456.6 L630.21,1457.1 L632.10,1457.5 L634.00,1458.0 L635.90,1458.5 L637.80,1458.9 L639.70,1459.4 L641.61,1459.9 L643.51,1460.3 L645.41,1460.8 L647.31,1461.2 L649.22,1461.7 L651.12,1462.1 L653.03,1462.6 L654.93,1463.0 L656.84,1463.5 L658.74,1463.9 L660.65,1464.3 L662.55,1464.8 L664.46,1465.2 L666.37,1465.7 L668.27,1466.1 L670.18,1466.5 L672.09,1467.0 L673.99,1467.4 L675.90,1467.8 L677.81,1468.3 L679.72,1468.7 L681.63,1469.1 L683.54,1469.5 L685.45,1470.0 L687.36,1470.4 L689.27,1470.8 L691.18,1471.2 L693.09,1471.6 L695.01,1472.0 L696.92,1472.4 L698.83,1472.9 L700.74,1473.3 L702.66,1473.7 L704.57,1474.1 L706.49,1474.5 L708.40,1474.9 L710.32,1475.3 L712.23,1475.6 L714.15,1476.0 L716.07,1476.4 L717.98,1476.8 L719.90,1477.2 L721.82,1477.6 L723.74,1477.9 L725.66,1478.3 L727.58,1478.7 L729.50,1479.1 L731.42,1479.4 L733.34,1479.8 L735.27,1480.1 L737.19,1480.5 L739.11,1480.8 L741.04,1481.2 L742.96,1481.5 L744.89,1481.9 L746.81,1482.2 L748.74,1482.6 L750.67,1482.9 L752.59,1483.2 L754.52,1483.5 L756.45,1483.9 L758.38,1484.2 L760.31,1484.5 L762.24,1484.8 L764.17,1485.1 L766.10,1485.4 L768.03,1485.7 L769.97,1486.0 L771.90,1486.3 L773.83,1486.6 L775.77,1486.9 L777.70,1487.1 L779.64,1487.4 L781.57,1487.7 L783.51,1487.9 L785.45,1488.2 L787.39,1488.5 L789.32,1488.7 L791.26,1489.0 L793.20,1489.2 L795.14,1489.4 L797.08,1489.7 L799.02,1489.9 L800.97,1490.1 L802.91,1490.3 L804.85,1490.6 L806.79,1490.8 L808.74,1491.0 L810.68,1491.2 L812.63,1491.4 L814.57,1491.5 L816.52,1491.7 L818.46,1491.9 L820.41,1492.1 L822.36,1492.2 L824.30,1492.4 L826.25,1492.6 L828.20,1492.7 L830.15,1492.9 L832.10,1493.0 L834.05,1493.2 L835.99,1493.3 L837.94,1493.4 L839.89,1493.5 L841.84,1493.7 L843.80,1493.8 L845.75,1493.9 L847.70,1494.0 L849.65,1494.1 L851.60,1494.2 L853.55,1494.3 L855.50,1494.4 L857.45,1494.5 L859.41,1494.6 L861.36,1494.7 L863.31,1494.7 L865.26,1494.8 L867.22,1494.9 L869.17,1495.0 L871.12,1495.0 L873.07,1495.1 L875.03,1495.2 L876.98,1495.2 L878.93,1495.3 L880.88,1495.4 L882.84,1495.4 L884.79,1495.5 L886.74,1495.5 L888.70,1495.6 L890.65,1495.6 L892.60,1495.7 L894.56,1495.7 L896.51,1495.7 L898.46,1495.8 L900.42,1495.8 L902.37,1495.9 L904.32,1495.9 L906.28,1495.9 L908.23,1496.0 L910.19,1496.0 L912.14,1496.0 L914.09,1496.1 L916.05,1496.1 L918.00,1496.1 L919.95,1496.2 L921.91,1496.2 L923.86,1496.2 L925.81,1496.3 L927.77,1496.3 L929.72,1496.3 L931.67,1496.4 L933.63,1496.4 L935.58,1496.4 L937.54,1496.5 L939.49,1496.5 L941.44,1496.5 L943.40,1496.6 L945.35,1496.6 L947.30,1496.6 L949.26,1496.7 L951.21,1496.7 L953.16,1496.8 L955.12,1496.8 L957.07,1496.8 L959.02,1496.9 L960.98,1496.9 L962.93,1497.0 L964.88,1497.0 L966.84,1497.1 L968.79,1497.1 L970.74,1497.2 L972.70,1497.3 L974.65,1497.3 L976.60,1497.4 L978.55,1497.5 L980.51,1497.5 L982.46,1497.6 L984.41,1497.7 L986.36,1497.7 L988.32,1497.8 L990.27,1497.9 L992.22,1498.0 L994.17,1498.1 L996.12,1498.2 L998.08,1498.3 L1000.03,1498.3 L1001.98,1498.4 L1003.93,1498.5 L1005.88,1498.6 L1007.83,1498.7 L1009.79,1498.8 L1011.74,1498.9 L1013.69,1499.1 L1015.64,1499.2 L1017.59,1499.3 L1019.54,1499.4 L1021.49,1499.5 L1023.44,1499.6 L1025.39,1499.7 L1027.34,1499.9 L1029.29,1500.0 L1031.24,1500.1 L1033.19,1500.2 L1035.14,1500.4 L1037.09,1500.5 L1039.04,1500.6 L1040.99,1500.8 L1042.94,1500.9 L1044.89,1501.0 L1046.84,1501.2 L1048.79,1501.3 L1050.73,1501.5 L1052.68,1501.6 L1054.63,1501.8 L1056.58,1501.9 L1058.53,1502.1 L1060.48,1502.2 L1062.43,1502.4 L1064.37,1502.5 L1066.32,1502.7 L1068.27,1502.8 L1070.22,1503.0 L1072.16,1503.1 L1074.11,1503.3 L1076.06,1503.5 L1078.01,1503.6 L1079.95,1503.8 L1081.90,1504.0 L1083.85,1504.1 L1085.79,1504.3 L1087.74,1504.5 L1089.69,1504.6 L1091.63,1504.8 L1093.58,1505.0 L1095.53,1505.2 L1097.47,1505.3 L1099.42,1505.5 L1101.37,1505.7 L1103.31,1505.9 L1105.26,1506.0 L1107.20,1506.2 L1109.15,1506.4 L1111.10,1506.6 L1113.04,1506.8 L1114.99,1507.0 L1116.93,1507.2 L1118.88,1507.3 L1120.82,1507.5 L1122.77,1507.7 L1124.71,1507.9 L1126.66,1508.1 L1128.60,1508.3 L1130.55,1508.5 L1132.49,1508.7 L1134.44,1508.9 L1136.38,1509.1 L1138.33,1509.2 L1140.27,1509.4 L1142.21,1509.6 L1144.16,1509.8 L1146.10,1510.0 L1148.05,1510.2 L1149.99,1510.4 L1151.94,1510.6 L1153.88,1510.8 L1155.82,1511.0 L1157.77,1511.2 L1159.71,1511.4 L1161.66,1511.6 L1163.60,1511.8 L1165.55,1512.0 L1167.49,1512.2 L1169.43,1512.4 L1171.38,1512.6 L1173.32,1512.8 L1175.26,1513.0 L1177.21,1513.2 L1179.15,1513.4 L1181.10,1513.6 L1183.04,1513.8 L1184.98,1514.0 L1186.93,1514.2 L1188.87,1514.5 L1190.81,1514.7 L1192.76,1514.9 L1194.70,1515.1 L1196.65,1515.3 L1198.59,1515.5 L1200.53,1515.7 L1202.48,1515.9 L1204.42,1516.1 L1206.36,1516.3 L1208.31,1516.5 L1210.25,1516.7 L1212.20,1516.9 L1214.14,1517.1 L1216.08,1517.3 L1218.03,1517.5 L1219.97,1517.7 L1221.92,1517.9 L1223.86,1518.1 L1225.80,1518.3 L1227.75,1518.5 L1229.69,1518.7 L1231.64,1518.9 L1233.58,1519.1 L1235.53,1519.3 L1237.47,1519.5 L1239.41,1519.7 L1241.36,1519.9 L1243.30,1520.1 L1245.25,1520.3 L1247.19,1520.5 L1249.14,1520.7 L1251.08,1520.8 L1253.03,1521.0 L1254.97,1521.2 L1256.92,1521.4 L1258.86,1521.6 L1260.81,1521.8 L1262.75,1522.0 L1264.70,1522.2 L1266.64,1522.4 L1268.59,1522.5 L1270.53,1522.7 L1272.48,1522.9 L1274.42,1523.1 L1276.37,1523.3 L1278.32,1523.5 L1280.26,1523.6 L1282.21,1523.8 L1284.15,1524.0 L1286.10,1524.2 L1288.05,1524.4 L1289.99,1524.5 L1291.94,1524.7 L1293.89,1524.9 L1295.83,1525.0 L1297.78,1525.2 L1299.73,1525.4 L1301.67,1525.6 L1303.62,1525.7 L1305.57,1525.9 L1307.51,1526.0 L1309.46,1526.2 L1311.41,1526.4 L1313.36,1526.5 L1315.30,1526.7 L1317.25,1526.8 L1319.20,1527.0 L1321.15,1527.2" fill="none" stroke="#FF0000" stroke-width="7" stroke-linecap="round" stroke-linejoin="round" stroke-dasharray="22 30.88" stroke-dashoffset="-7.4"/>
<path transform="scale(1.025,1)" d="M1321.15,1527.2 L1323.10,1527.3 L1325.04,1527.5 L1326.99,1527.6 L1328.94,1527.8 L1330.89,1527.9 L1332.84,1528.0 L1334.79,1528.2 L1336.74,1528.3 L1338.69,1528.5 L1340.63,1528.6 L1342.58,1528.8 L1344.53,1528.9 L1346.48,1529.0 L1348.43,1529.2 L1350.38,1529.3 L1352.33,1529.4 L1354.28,1529.6 L1356.23,1529.7 L1358.18,1529.8 L1360.13,1529.9 L1362.08,1530.1 L1364.03,1530.2 L1365.98,1530.3 L1367.93,1530.4 L1369.88,1530.6 L1371.83,1530.7 L1373.78,1530.8 L1375.73,1530.9 L1377.68,1531.0 L1379.63,1531.1 L1381.58,1531.2 L1383.53,1531.4 L1385.49,1531.5 L1387.44,1531.6 L1389.39,1531.7 L1391.34,1531.8 L1393.29,1531.9 L1395.24,1532.0 L1397.19,1532.1 L1399.14,1532.2 L1401.09,1532.3 L1403.05,1532.4 L1405.00,1532.5 L1406.95,1532.6 L1408.90,1532.7 L1410.85,1532.8 L1412.80,1532.9 L1414.76,1533.0 L1416.71,1533.1 L1418.66,1533.2 L1420.61,1533.3 L1422.56,1533.4 L1424.51,1533.4 L1426.47,1533.5 L1428.42,1533.6 L1430.37,1533.7 L1432.32,1533.8 L1434.27,1533.9 L1436.23,1533.9 L1438.18,1534.0 L1440.13,1534.1 L1442.08,1534.2 L1444.04,1534.3 L1445.99,1534.3 L1447.94,1534.4 L1449.89,1534.5 L1451.85,1534.6 L1453.80,1534.6 L1455.75,1534.7 L1457.70,1534.8 L1459.66,1534.9 L1461.61,1534.9 L1463.56,1535.0 L1465.51,1535.1 L1467.47,1535.1 L1469.42,1535.2 L1471.37,1535.3 L1473.32,1535.3 L1475.28,1535.4 L1477.23,1535.5 L1479.18,1535.5 L1481.14,1535.6 L1483.09,1535.7 L1485.04,1535.7 L1486.99,1535.8 L1488.95,1535.8 L1490.90,1535.9 L1492.85,1536.0 L1494.81,1536.0 L1496.76,1536.1 L1498.71,1536.1 L1500.67,1536.2 L1502.62,1536.2 L1504.57,1536.3 L1506.53,1536.3 L1508.48,1536.4 L1510.43,1536.4 L1512.38,1536.5 L1514.34,1536.5 L1516.29,1536.6 L1518.24,1536.6 L1520.20,1536.7 L1522.15,1536.7 L1524.10,1536.8 L1526.06,1536.8 L1528.01,1536.9 L1529.96,1536.9 L1531.92,1537.0 L1533.87,1537.0 L1535.82,1537.1 L1537.78,1537.1 L1539.73,1537.1 L1541.68,1537.2 L1543.64,1537.2 L1545.59,1537.3 L1547.54,1537.3 L1549.50,1537.3 L1551.45,1537.4 L1553.41,1537.4 L1555.36,1537.5 L1557.31,1537.5 L1559.27,1537.5 L1561.22,1537.6 L1563.17,1537.6 L1565.13,1537.6 L1567.08,1537.7 L1569.03,1537.7 L1570.99,1537.7 L1572.94,1537.8 L1574.89,1537.8 L1576.85,1537.8 L1578.80,1537.9 L1580.75,1537.9 L1582.71,1537.9 L1584.66,1538.0 L1586.62,1538.0 L1588.57,1538.0 L1590.52,1538.1 L1592.48,1538.1 L1594.43,1538.1 L1596.38,1538.2 L1598.34,1538.2 L1600.29,1538.2 L1602.24,1538.3 L1604.20,1538.3 L1606.15,1538.3 L1608.10,1538.3 L1610.06,1538.4 L1612.01,1538.4 L1613.97,1538.4 L1615.92,1538.5 L1617.87,1538.5 L1619.83,1538.5" fill="none" stroke="#FF0000" stroke-width="7" stroke-linecap="round" stroke-linejoin="round" stroke-dasharray="22 30.88" stroke-dashoffset="-9.7"/>
<path d="M102.31,654.3 L102.74,652.4 L103.18,650.4 L103.61,648.5 L104.04,646.5 L104.46,644.6 L104.89,642.6 L105.31,640.6 L105.73,638.7 L106.15,636.7 L106.56,634.8 L106.97,632.8 L107.39,630.8 L107.80,628.9 L108.20,626.9 L108.61,625.0 L109.01,623.0 L109.41,621.0 L109.81,619.1 L110.21,617.1 L110.61,615.2 L111.00,613.2 L111.40,611.2 L111.79,609.3 L112.18,607.3 L112.56,605.3 L112.95,603.4 L113.33,601.4 L113.72,599.4 L114.10,597.5 L114.48,595.5 L114.86,593.5 L115.24,591.6 L115.61,589.6 L115.99,587.6 L116.36,585.7 L116.74,583.7 L117.11,581.7 L117.48,579.8 L117.85,577.8 L118.22,575.8 L118.58,573.9 L118.95,571.9 L119.31,569.9 L119.68,568.0 L120.04,566.0 L120.40,564.0 L120.77,562.0 L121.13,560.1 L121.49,558.1 L121.85,556.1 L122.21,554.2 L122.56,552.2 L122.92,550.2 L123.28,548.2 L123.64,546.3 L123.99,544.3 L124.35,542.3 L124.70,540.4 L125.06,538.4 L125.41,536.4 L125.76,534.5 L126.12,532.5 L126.47,530.5 L126.82,528.5 L127.18,526.6 L127.53,524.6 L127.88,522.6 L128.23,520.7 L128.59,518.7 L128.94,516.7 L129.29,514.7 L129.64,512.8 L129.99,510.8 L130.35,508.8 L130.70,506.9 L131.05,504.9 L131.40,502.9 L131.76,500.9 L132.11,499.0 L132.46,497.0 L132.82,495.0 L133.17,493.1 L133.53,491.1 L133.88,489.1 L134.24,487.1 L134.59,485.2 L134.95,483.2 L135.31,481.2 L135.66,479.3 L136.02,477.3 L136.38,475.3 L136.74,473.3 L137.10,471.4 L137.46,469.4 L137.83,467.4 L138.19,465.5 L138.55,463.5 L138.92,461.5 L139.28,459.6 L139.65,457.6 L140.02,455.6 L140.39,453.7 L140.76,451.7 L141.13,449.7 L141.50,447.7 L141.87,445.8 L142.25,443.8 L142.62,441.8 L143.00,439.9 L143.38,437.9 L143.76,435.9 L144.14,434.0 L144.52,432.0 L144.90,430.0 L145.29,428.1 L145.68,426.1 L146.07,424.2 L146.46,422.2 L146.85,420.2 L147.24,418.3 L147.64,416.3 L148.03,414.3 L148.43,412.4 L148.83,410.4 L149.24,408.4 L149.64,406.5 L150.05,404.5 L150.45,402.6 L150.86,400.6 L151.28,398.6 L151.69,396.7 L152.11,394.7 L152.52,392.8 L152.94,390.8 L153.36,388.9 L153.79,386.9 L154.21,384.9 L154.63,383.0 L155.06,381.0 L155.48,379.1 L155.91,377.1 L156.34,375.2 L156.77,373.2 L157.20,371.2 L157.63,369.3 L158.06,367.3 L158.49,365.4 L158.92,363.4 L159.35,361.5 L159.78,359.5 L160.21,357.5 L160.64,355.6 L161.07,353.6 L161.50,351.7 L161.93,349.7 L162.35,347.8 L162.78,345.8 L163.21,343.9 L163.63,341.9 L164.06,339.9 L164.48,338.0 L164.91,336.0 L165.33,334.1 L165.75,332.1 L166.17,330.2 L166.59,328.2 L167.00,326.2 L167.42,324.3 L167.83,322.3 L168.24,320.4 L168.65,318.4 L169.06,316.4 L169.46,314.5 L169.87,312.5 L170.27,310.5 L170.67,308.6 L171.06,306.6 L171.46,304.7 L171.85,302.7 L172.25,300.7 L172.65,298.8 L173.06,296.8 L173.49,294.9 L173.94,292.9 L174.42,291.0 L174.92,289.0 L175.45,287.1 L176.02,285.2 L176.63,283.3 L177.29,281.4 L178.01,279.5 L178.77,277.7 L179.60,275.8 L180.50,274.0 L181.47,272.3 L182.51,270.6 L183.63,268.9 L184.83,267.3 L186.11,265.8 L187.46,264.3 L188.90,262.9 L190.41,261.6 L192.00,260.4 L193.69,259.3 L195.50,258.4 L197.43,257.9 L199.43,257.9 L201.37,258.3 L203.16,259.2 L204.75,260.5 L206.15,261.9 L207.39,263.5 L208.51,265.1 L209.52,266.8 L210.46,268.6 L211.34,270.4 L212.18,272.2 L212.98,274.1 L213.75,275.9 L214.50,277.8 L215.23,279.6 L215.93,281.5 L216.61,283.4 L217.26,285.3 L217.90,287.2 L218.51,289.1 L219.10,291.0 L219.67,292.9 L220.22,294.9 L220.75,296.8 L221.26,298.7 L221.76,300.7 L222.24,302.6 L222.71,304.6 L223.16,306.5 L223.61,308.5 L224.04,310.4 L224.46,312.4 L224.87,314.3 L225.28,316.3 L225.68,318.3 L226.08,320.2 L226.48,322.2 L226.87,324.1 L227.26,326.1 L227.65,328.1 L228.04,330.0 L228.43,332.0 L228.82,334.0 L229.20,335.9 L229.59,337.9 L229.97,339.9 L230.35,341.8 L230.73,343.8 L231.11,345.8 L231.48,347.7 L231.86,349.7 L232.23,351.7 L232.61,353.6 L232.98,355.6 L233.35,357.6 L233.72,359.5 L234.08,361.5 L234.45,363.5 L234.81,365.4 L235.18,367.4 L235.54,369.4 L235.90,371.4 L236.26,373.3 L236.62,375.3 L236.97,377.3 L237.33,379.2 L237.68,381.2 L238.04,383.2 L238.39,385.2 L238.74,387.1 L239.09,389.1 L239.44,391.1 L239.79,393.0 L240.13,395.0 L240.48,397.0 L240.82,399.0 L241.17,400.9 L241.51,402.9 L241.85,404.9 L242.19,406.9 L242.53,408.8 L242.87,410.8 L243.20,412.8 L243.54,414.8 L243.88,416.7 L244.21,418.7 L244.54,420.7 L244.87,422.6 L245.20,424.6 L245.53,426.6 L245.86,428.6 L246.19,430.6 L246.52,432.5 L246.84,434.5 L247.17,436.5 L247.49,438.5 L247.82,440.4 L248.14,442.4 L248.46,444.4 L248.78,446.4 L249.10,448.3 L249.42,450.3 L249.74,452.3 L250.05,454.3 L250.37,456.2 L250.69,458.2 L251.00,460.2 L251.31,462.2 L251.63,464.2 L251.94,466.1 L252.25,468.1 L252.56,470.1 L252.87,472.1 L253.18,474.1 L253.49,476.0 L253.80,478.0 L254.11,480.0 L254.41,482.0 L254.72,483.9 L255.02,485.9 L255.33,487.9 L255.63,489.9 L255.93,491.9 L256.24,493.8 L256.54,495.8 L256.84,497.8 L257.14,499.8 L257.44,501.8 L257.74,503.7 L258.04,505.7 L258.34,507.7 L258.64,509.7 L258.93,511.7 L259.23,513.6 L259.53,515.6 L259.82,517.6 L260.12,519.6 L260.41,521.6 L260.71,523.6 L261.00,525.5 L261.29,527.5 L261.58,529.5 L261.88,531.5 L262.17,533.5 L262.46,535.4 L262.75,537.4 L263.04,539.4 L263.33,541.4 L263.62,543.4 L263.91,545.3 L264.20,547.3 L264.49,549.3 L264.78,551.3 L265.07,553.3 L265.35,555.3 L265.64,557.2 L265.93,559.2 L266.21,561.2 L266.50,563.2 L266.79,565.2 L267.07,567.1 L267.36,569.1 L267.64,571.1 L267.93,573.1 L268.21,575.1 L268.50,577.1 L268.78,579.0 L269.07,581.0 L269.35,583.0 L269.63,585.0 L269.92,587.0 L270.20,589.0 L270.49,590.9 L270.77,592.9 L271.05,594.9 L271.33,596.9 L271.62,598.9 L271.90,600.9 L272.18,602.8 L272.47,604.8 L272.75,606.8 L273.03,608.8 L273.31,610.8 L273.59,612.7 L273.88,614.7 L274.16,616.7 L274.44,618.7 L274.72,620.7 L275.01,622.7 L275.29,624.6 L275.57,626.6 L275.85,628.6 L276.13,630.6 L276.42,632.6 L276.70,634.6 L276.98,636.5 L277.26,638.5 L277.55,640.5 L277.83,642.5 L278.11,644.5 L278.39,646.5 L278.68,648.4 L278.96,650.4 L279.24,652.4 L279.53,654.4 L279.81,656.4 L280.10,658.3 L280.38,660.3 L280.66,662.3 L280.95,664.3 L281.23,666.3 L281.52,668.3 L281.80,670.2 L282.09,672.2 L282.37,674.2 L282.66,676.2 L282.94,678.2 L283.23,680.2 L283.52,682.1 L283.80,684.1 L284.09,686.1 L284.38,688.1 L284.67,690.1 L284.96,692.0 L285.24,694.0 L285.53,696.0 L285.82,698.0 L286.11,700.0 L286.40,702.0 L286.69,703.9 L286.98,705.9 L287.28,707.9 L287.57,709.9 L287.86,711.9 L288.15,713.8 L288.45,715.8 L288.74,717.8 L289.03,719.8 L289.33,721.8 L289.62,723.7 L289.92,725.7 L290.21,727.7 L290.51,729.7 L290.81,731.7 L291.11,733.7 L291.40,735.6 L291.70,737.6 L292.00,739.6 L292.30,741.6 L292.60,743.6 L292.91,745.5 L293.21,747.5 L293.51,749.5 L293.81,751.5 L294.12,753.5 L294.42,755.4 L294.73,757.4 L295.03,759.4 L295.34,761.4 L295.65,763.3 L295.95,765.3 L296.26,767.3 L296.57,769.3 L296.88,771.3 L297.19,773.2 L297.50,775.2 L297.82,777.2 L298.13,779.2 L298.44,781.2 L298.76,783.1 L299.07,785.1 L299.39,787.1 L299.71,789.1 L300.03,791.0 L300.34,793.0 L300.66,795.0 L300.99,797.0 L301.31,798.9 L301.63,800.9 L301.95,802.9 L302.28,804.9 L302.60,806.9 L302.93,808.8 L303.25,810.8 L303.58,812.8 L303.91,814.8 L304.24,816.7 L304.57,818.7 L304.90,820.7 L305.24,822.7 L305.57,824.6 L305.91,826.6 L306.24,828.6 L306.58,830.6 L306.92,832.5 L307.26,834.5 L307.60,836.5 L307.94,838.5 L308.28,840.4 L308.62,842.4 L308.97,844.4 L309.31,846.3 L309.66,848.3 L310.01,850.3 L310.36,852.3 L310.71,854.2 L311.06,856.2 L311.41,858.2 L311.76,860.1 L312.12,862.1 L312.47,864.1 L312.83,866.1 L313.19,868.0 L313.55,870.0 L313.91,872.0 L314.27,873.9 L314.64,875.9 L315.00,877.9 L315.37,879.8 L315.73,881.8 L316.10,883.8 L316.47,885.8 L316.84,887.7 L317.22,889.7 L317.59,891.7 L317.97,893.6 L318.34,895.6 L318.72,897.6 L319.10,899.5 L319.48,901.5 L319.86,903.5 L320.25,905.4 L320.63,907.4 L321.02,909.4 L321.41,911.3 L321.80,913.3 L322.19,915.2 L322.58,917.2 L322.97,919.2 L323.37,921.1 L323.76,923.1 L324.16,925.1 L324.56,927.0 L324.96,929.0 L325.37,930.9 L325.77,932.9 L326.18,934.9 L326.59,936.8 L326.99,938.8 L327.41,940.8 L327.82,942.7 L328.23,944.7 L328.65,946.6 L329.06,948.6 L329.48,950.5 L329.90,952.5 L330.33,954.5 L330.75,956.4 L331.18,958.4 L331.60,960.3 L332.03,962.3 L332.46,964.2 L332.89,966.2 L333.33,968.2 L333.76,970.1 L334.20,972.1 L334.64,974.0 L335.08,976.0 L335.52,977.9 L335.97,979.9 L336.42,981.8 L336.86,983.8 L337.31,985.7 L337.77,987.7 L338.22,989.6 L338.67,991.6 L339.13,993.5 L339.59,995.5 L340.05,997.4 L340.52,999.4 L340.98,1001.3 L341.45,1003.3 L341.92,1005.2 L342.39,1007.2 L342.86,1009.1 L343.33,1011.1 L343.81,1013.0 L344.29,1015.0 L344.77,1016.9 L345.25,1018.8 L345.73,1020.8 L346.22,1022.7 L346.71,1024.7 L347.20,1026.6 L347.69,1028.6 L348.18,1030.5 L348.68,1032.4 L349.18,1034.4 L349.68,1036.3 L350.18,1038.3 L350.69,1040.2 L351.19,1042.1 L351.70,1044.1 L352.21,1046.0 L352.73,1047.9 L353.24,1049.9 L353.76,1051.8 L354.28,1053.7 L354.80,1055.7 L355.32,1057.6 L355.85,1059.5 L356.38,1061.5 L356.91,1063.4 L357.44,1065.3 L357.97,1067.3 L358.51,1069.2 L359.05,1071.1 L359.59,1073.1 L360.13,1075.0 L360.68,1076.9 L361.23,1078.8 L361.78,1080.8 L362.33,1082.7 L362.88,1084.6 L363.44,1086.5 L364.00,1088.5 L364.56,1090.4 L365.13,1092.3 L365.69,1094.2 L366.26,1096.1 L366.84,1098.1 L367.41,1100.0 L367.99,1101.9 L368.57,1103.8 L369.15,1105.7 L369.74,1107.6 L370.33,1109.6 L370.92,1111.5 L371.52,1113.4 L372.12,1115.3 L372.72,1117.2 L373.32,1119.1 L373.93,1121.0 L374.54,1122.9 L375.16,1124.8 L375.77,1126.7 L376.40,1128.6 L377.02,1130.5 L377.65,1132.4 L378.28,1134.3 L378.92,1136.2 L379.55,1138.1 L380.20,1140.0 L380.84,1141.9 L381.49,1143.8 L382.15,1145.7 L382.81,1147.6 L383.47,1149.5 L384.13,1151.4 L384.80,1153.3 L385.47,1155.2 L386.15,1157.1 L386.83,1158.9 L387.52,1160.8 L388.21,1162.7 L388.90,1164.6 L389.60,1166.5 L390.30,1168.3 L391.01,1170.2 L391.72,1172.1 L392.44,1173.9 L393.16,1175.8 L393.89,1177.7 L394.62,1179.5 L395.35,1181.4 L396.09,1183.3 L396.84,1185.1 L397.59,1187.0 L398.35,1188.8 L399.11,1190.7 L399.88,1192.5 L400.65,1194.4 L401.43,1196.2 L402.22,1198.1 L403.01,1199.9 L403.81,1201.7 L404.61,1203.6 L405.43,1205.4 L406.24,1207.2 L407.07,1209.1 L407.90,1210.9 L408.73,1212.7 L409.58,1214.5 L410.43,1216.3 L411.29,1218.1 L412.15,1220.0 L413.03,1221.8 L413.91,1223.6 L414.79,1225.3 L415.69,1227.1 L416.59,1228.9 L417.50,1230.7 L418.42,1232.5 L419.34,1234.3 L420.27,1236.0 L421.21,1237.8 L422.16,1239.6 L423.12,1241.3 L424.08,1243.1 L425.05,1244.8 L426.02,1246.6 L427.01,1248.3 L428.00,1250.1 L429.00,1251.8 L430.01,1253.5 L431.03,1255.3 L432.05,1257.0 L433.08,1258.7 L434.12,1260.4 L435.17,1262.1 L436.22,1263.8 L437.28,1265.5 L438.35,1267.2 L439.43,1268.9 L440.51,1270.6 L441.61,1272.3 L442.71,1273.9 L443.82,1275.6 L444.93,1277.3 L446.06,1278.9 L447.19,1280.6 L448.33,1282.2 L449.48,1283.9 L450.63,1285.5 L451.79,1287.1 L452.96,1288.8 L454.14,1290.4 L455.33,1292.0 L456.52,1293.6 L457.73,1295.2 L458.94,1296.8 L460.15,1298.4 L461.38,1300.0 L462.61,1301.6 L463.85,1303.1 L465.10,1304.7 L466.36,1306.3 L467.62,1307.8 L468.89,1309.4 L470.17,1310.9 L471.46,1312.4 L472.75,1314.0 L474.05,1315.5 L475.36,1317.0 L476.68,1318.5 L478.01,1320.0 L479.34,1321.5 L480.68,1323.0 L482.03,1324.5 L483.38,1325.9 L484.74,1327.4 L486.11,1328.9 L487.49,1330.3 L488.87,1331.8 L490.26,1333.2 L491.66,1334.6 L493.07,1336.1 L494.48,1337.5 L495.90,1338.9 L497.33,1340.3 L498.76,1341.7 L500.20,1343.1 L501.65,1344.5 L503.11,1345.9 L504.57,1347.2 L506.04,1348.6 L507.51,1349.9 L509.00,1351.3 L510.48,1352.6 L511.98,1354.0 L513.48,1355.3 L514.99,1356.6 L516.51,1357.9 L518.03,1359.2 L519.56,1360.5 L521.10,1361.8 L522.64,1363.1 L524.19,1364.3 L525.75,1365.6 L527.31,1366.8 L528.88,1368.1 L530.46,1369.3 L532.04,1370.6 L533.63,1371.8 L535.22,1373.0 L536.83,1374.2 L538.43,1375.4 L540.05,1376.6 L541.67,1377.7 L543.30,1378.9 L544.93,1380.1 L546.57,1381.2 L548.21,1382.4 L549.87,1383.5 L551.52,1384.6 L553.19,1385.7 L554.86,1386.8 L556.54,1387.9 L558.22,1389.0 L559.91,1390.1 L561.60,1391.2 L563.30,1392.2 L565.01,1393.3 L566.72,1394.3 L568.44,1395.3 L570.16,1396.4 L571.89,1397.4 L573.63,1398.4 L575.37,1399.4 L577.11,1400.3 L578.87,1401.3 L580.62,1402.3 L582.39,1403.2 L584.16,1404.1 L585.93,1405.1 L587.71,1406.0 L589.50,1406.9 L591.29,1407.8 L593.08,1408.7 L594.89,1409.6 L596.69,1410.4 L598.51,1411.3 L600.32,1412.1 L602.15,1412.9 L603.97,1413.8 L605.81,1414.6 L607.64,1415.4 L609.49,1416.2 L611.33,1416.9 L613.19,1417.7 L615.04,1418.4 L616.90,1419.2 L618.77,1419.9 L620.64,1420.6 L622.51,1421.3 L624.39,1422.0 L626.27,1422.7 L628.15,1423.4 L630.04,1424.1 L631.93,1424.7 L633.82,1425.4 L635.72,1426.0 L637.62,1426.7 L639.52,1427.3 L641.43,1427.9 L643.34,1428.5 L645.25,1429.1 L647.16,1429.7 L649.07,1430.3 L650.99,1430.9 L652.91,1431.5 L654.83,1432.0 L656.75,1432.6 L658.67,1433.1 L660.60,1433.7 L662.53,1434.2 L664.45,1434.8 L666.38,1435.3 L668.32,1435.8 L670.25,1436.4 L672.18,1436.9 L674.12,1437.4 L676.05,1437.9 L677.99,1438.4 L679.93,1438.9 L681.86,1439.4 L683.80,1439.9 L685.74,1440.4 L687.68,1440.9 L689.62,1441.4 L691.57,1441.9 L693.51,1442.4 L695.45,1442.9 L697.39,1443.4 L699.33,1443.9 L701.28,1444.4 L703.22,1444.9 L705.16,1445.3 L707.11,1445.8 L709.05,1446.3 L710.99,1446.8 L712.93,1447.3 L714.88,1447.8 L716.82,1448.3 L718.76,1448.8 L720.70,1449.2 L722.64,1449.7 L724.58,1450.2 L726.52,1450.7 L728.46,1451.2 L730.40,1451.7 L732.34,1452.3 L734.27,1452.8 L736.21,1453.3 L738.14,1453.8 L740.08,1454.3 L742.01,1454.8 L743.95,1455.3 L745.88,1455.9 L747.81,1456.4 L749.75,1456.9 L751.68,1457.4 L753.61,1458.0 L755.54,1458.5 L757.47,1459.0 L759.40,1459.6 L761.33,1460.1 L763.26,1460.6 L765.19,1461.2 L767.12,1461.7 L769.05,1462.3 L770.98,1462.8 L772.90,1463.3 L774.83,1463.9 L776.76,1464.4 L778.69,1465.0 L780.62,1465.5 L782.55,1466.0 L784.47,1466.6 L786.40,1467.1 L788.33,1467.7 L790.26,1468.2 L792.19,1468.7 L794.12,1469.3 L796.05,1469.8 L797.97,1470.4 L799.90,1470.9 L801.83,1471.4 L803.76,1472.0 L805.69,1472.5 L807.63,1473.0 L809.56,1473.6 L811.49,1474.1 L813.42,1474.6 L815.35,1475.1 L817.29,1475.7 L819.22,1476.2 L821.15,1476.7 L823.09,1477.2 L825.02,1477.7 L826.96,1478.3 L828.90,1478.8 L830.83,1479.3 L832.77,1479.8 L834.71,1480.3 L836.65,1480.8 L838.59,1481.3 L840.53,1481.8 L842.47,1482.3 L844.42,1482.7 L846.36,1483.2 L848.31,1483.7 L850.25,1484.2 L852.20,1484.6 L854.15,1485.1 L856.09,1485.6 L858.04,1486.0 L859.99,1486.5 L861.94,1486.9 L863.90,1487.4 L865.85,1487.8 L867.80,1488.3 L869.76,1488.7 L871.72,1489.1 L873.67,1489.5 L875.63,1490.0 L877.59,1490.4 L879.55,1490.8 L881.52,1491.2 L883.48,1491.6 L885.44,1492.0 L887.41,1492.4 L889.38,1492.7 L891.34,1493.1 L893.31,1493.5 L895.28,1493.8 L897.25,1494.2 L899.23,1494.5 L901.20,1494.9 L903.17,1495.2 L905.15,1495.5 L907.13,1495.9 L909.10,1496.2 L911.08,1496.5 L913.06,1496.8 L915.04,1497.1 L917.02,1497.4 L919.01,1497.7 L920.99,1498.0 L922.97,1498.2 L924.96,1498.5 L926.94,1498.8 L928.93,1499.0 L930.91,1499.3 L932.90,1499.6 L934.89,1499.8 L936.87,1500.0 L938.86,1500.3 L940.85,1500.5 L942.84,1500.8 L944.83,1501.0 L946.82,1501.2 L948.81,1501.4 L950.80,1501.7 L952.79,1501.9 L954.78,1502.1 L956.77,1502.3 L958.76,1502.5 L960.75,1502.7 L962.75,1502.9 L964.74,1503.2 L966.73,1503.4 L968.72,1503.6 L970.72,1503.8 L972.71,1504.0 L974.70,1504.1 L976.69,1504.3 L978.69,1504.5 L980.68,1504.7 L982.67,1504.9 L984.67,1505.1 L986.66,1505.3 L988.66,1505.5 L990.65,1505.7 L992.64,1505.9 L994.64,1506.1 L996.63,1506.3 L998.62,1506.4 L1000.62,1506.6 L1002.61,1506.8 L1004.60,1507.0 L1006.60,1507.2 L1008.59,1507.4 L1010.58,1507.6 L1012.58,1507.8 L1014.57,1508.0 L1016.56,1508.2 L1018.56,1508.4 L1020.55,1508.6 L1022.54,1508.8 L1024.53,1509.0 L1026.52,1509.2 L1028.51,1509.4 L1030.51,1509.7 L1032.50,1509.9 L1034.49,1510.1 L1036.48,1510.3 L1038.47,1510.5 L1040.46,1510.8 L1042.45,1511.0 L1044.43,1511.3 L1046.42,1511.5 L1048.41,1511.7" fill="none" stroke="#0000FF" stroke-width="7" stroke-linecap="round" stroke-linejoin="round"/>
<path d="M101.53,710.6 L101.77,712.6 L102.01,714.5 L102.26,716.5 L102.52,718.5 L102.78,720.5 L103.04,722.5 L103.30,724.5 L103.57,726.5 L103.85,728.4 L104.13,730.4 L104.41,732.4 L104.69,734.4 L104.98,736.4 L105.28,738.3 L105.57,740.3 L105.87,742.3 L106.17,744.3 L106.48,746.3 L106.79,748.2 L107.10,750.2 L107.42,752.2 L107.74,754.2 L108.06,756.2 L108.39,758.1 L108.72,760.1 L109.05,762.1 L109.38,764.1 L109.72,766.0 L110.06,768.0 L110.40,770.0 L110.75,771.9 L111.10,773.9 L111.45,775.9 L111.80,777.9 L112.15,779.8 L112.51,781.8 L112.87,783.8 L113.24,785.7 L113.60,787.7 L113.97,789.7 L114.34,791.6 L114.71,793.6 L115.08,795.6 L115.46,797.5 L115.83,799.5 L116.21,801.5 L116.60,803.4 L116.98,805.4 L117.36,807.4 L117.75,809.3 L118.14,811.3 L118.53,813.3 L118.92,815.2 L119.31,817.2 L119.70,819.2 L120.10,821.1 L120.50,823.1 L120.89,825.0 L121.29,827.0 L121.69,829.0 L122.09,830.9 L122.50,832.9 L122.90,834.9 L123.31,836.8 L123.71,838.8 L124.12,840.7 L124.52,842.7 L124.93,844.7 L125.34,846.6 L125.75,848.6 L126.16,850.5 L126.57,852.5 L126.98,854.5 L127.39,856.4 L127.80,858.4 L128.21,860.3 L128.63,862.3 L129.04,864.3 L129.45,866.2 L129.86,868.2 L130.28,870.1 L130.69,872.1 L131.10,874.0 L131.51,876.0 L131.93,878.0 L132.34,879.9 L132.75,881.9 L133.16,883.8 L133.57,885.8 L133.99,887.8 L134.40,889.7 L134.81,891.7 L135.22,893.6 L135.63,895.6 L136.04,897.6 L136.44,899.5 L136.85,901.5 L137.26,903.4 L137.67,905.4 L138.08,907.4 L138.48,909.3 L138.89,911.3 L139.30,913.2 L139.71,915.2 L140.12,917.2 L140.52,919.1 L140.93,921.1 L141.34,923.0 L141.75,925.0 L142.16,927.0 L142.57,928.9 L142.98,930.9 L143.39,932.8 L143.80,934.8 L144.21,936.8 L144.63,938.7 L145.04,940.7 L145.45,942.6 L145.87,944.6 L146.28,946.6 L146.70,948.5 L147.12,950.5 L147.54,952.4 L147.96,954.4 L148.38,956.4 L148.80,958.3 L149.22,960.3 L149.65,962.2 L150.07,964.2 L150.50,966.1 L150.93,968.1 L151.36,970.0 L151.79,972.0 L152.22,974.0 L152.65,975.9 L153.09,977.9 L153.53,979.8 L153.97,981.8 L154.41,983.7 L154.85,985.7 L155.29,987.6 L155.74,989.6 L156.19,991.5 L156.64,993.5 L157.09,995.4 L157.55,997.4 L158.00,999.3 L158.46,1001.3 L158.92,1003.2 L159.39,1005.2 L159.85,1007.1 L160.32,1009.1 L160.79,1011.0 L161.26,1013.0 L161.74,1014.9 L162.22,1016.9 L162.70,1018.8 L163.18,1020.7 L163.67,1022.7 L164.16,1024.6 L164.65,1026.6 L165.14,1028.5 L165.64,1030.5 L166.14,1032.4 L166.65,1034.3 L167.15,1036.3 L167.66,1038.2 L168.17,1040.1 L168.69,1042.1 L169.21,1044.0 L169.73,1045.9 L170.26,1047.9 L170.79,1049.8 L171.32,1051.7 L171.85,1053.7 L172.39,1055.6 L172.94,1057.5 L173.48,1059.4 L174.03,1061.4 L174.59,1063.3 L175.14,1065.2 L175.70,1067.1 L176.27,1069.1 L176.84,1071.0 L177.41,1072.9 L177.99,1074.8 L178.57,1076.7 L179.15,1078.6 L179.74,1080.6 L180.33,1082.5 L180.93,1084.4 L181.53,1086.3 L182.13,1088.2 L182.74,1090.1 L183.36,1092.0 L183.97,1093.9 L184.60,1095.8 L185.22,1097.7 L185.85,1099.6 L186.49,1101.5 L187.13,1103.4 L187.77,1105.3 L188.42,1107.2 L189.08,1109.1 L189.74,1111.0 L190.40,1112.9 L191.07,1114.8 L191.74,1116.7 L192.42,1118.5 L193.10,1120.4 L193.78,1122.3 L194.48,1124.2 L195.17,1126.1 L195.87,1127.9 L196.58,1129.8 L197.29,1131.7 L198.01,1133.6 L198.73,1135.4 L199.45,1137.3 L200.18,1139.2 L200.92,1141.0 L201.66,1142.9 L202.40,1144.7 L203.15,1146.6 L203.91,1148.4 L204.66,1150.3 L205.43,1152.1 L206.20,1154.0 L206.97,1155.8 L207.75,1157.7 L208.54,1159.5 L209.33,1161.4 L210.12,1163.2 L210.92,1165.0 L211.72,1166.9 L212.53,1168.7 L213.35,1170.5 L214.17,1172.4 L214.99,1174.2 L215.82,1176.0 L216.66,1177.8 L217.50,1179.7 L218.34,1181.5 L219.19,1183.3 L220.05,1185.1 L220.91,1186.9 L221.77,1188.7 L222.64,1190.5 L223.52,1192.3 L224.40,1194.1 L225.29,1195.9 L226.18,1197.7 L227.08,1199.5 L227.98,1201.3 L228.89,1203.1 L229.80,1204.8 L230.72,1206.6 L231.64,1208.4 L232.57,1210.2 L233.51,1211.9 L234.45,1213.7 L235.39,1215.5 L236.34,1217.2 L237.30,1219.0 L238.26,1220.7 L239.23,1222.5 L240.20,1224.3 L241.18,1226.0 L242.16,1227.7 L243.15,1229.5 L244.15,1231.2 L245.15,1233.0 L246.15,1234.7 L247.17,1236.4 L248.18,1238.1 L249.21,1239.9 L250.24,1241.6 L251.27,1243.3 L252.31,1245.0 L253.36,1246.7 L254.41,1248.4 L255.47,1250.1 L256.53,1251.8 L257.60,1253.5 L258.67,1255.2 L259.75,1256.9 L260.84,1258.6 L261.93,1260.2 L263.03,1261.9 L264.13,1263.6 L265.24,1265.2 L266.36,1266.9 L267.48,1268.6 L268.61,1270.2 L269.74,1271.9 L270.88,1273.5 L272.03,1275.2 L273.18,1276.8 L274.34,1278.4 L275.50,1280.1 L276.67,1281.7 L277.85,1283.3 L279.03,1284.9 L280.22,1286.5 L281.41,1288.1 L282.61,1289.8 L283.82,1291.3 L285.03,1292.9 L286.25,1294.5 L287.47,1296.1 L288.70,1297.7 L289.94,1299.3 L291.18,1300.8 L292.43,1302.4 L293.69,1304.0 L294.95,1305.5 L296.22,1307.1 L297.49,1308.6 L298.78,1310.1 L300.06,1311.7 L301.36,1313.2 L302.66,1314.7 L303.96,1316.3 L305.28,1317.8 L306.59,1319.3 L307.92,1320.8 L309.25,1322.3 L310.59,1323.8 L311.93,1325.2 L313.28,1326.7 L314.64,1328.2 L316.01,1329.7 L317.38,1331.1 L318.75,1332.6 L320.14,1334.0 L321.52,1335.5 L322.92,1336.9 L324.32,1338.3 L325.73,1339.7 L327.15,1341.2 L328.57,1342.6 L330.00,1344.0 L331.43,1345.4 L332.87,1346.8 L334.32,1348.1 L335.77,1349.5 L337.23,1350.9 L338.70,1352.3 L340.17,1353.6 L341.65,1355.0 L343.14,1356.3 L344.63,1357.6 L346.13,1359.0 L347.63,1360.3 L349.15,1361.6 L350.66,1362.9 L352.19,1364.2 L353.72,1365.5 L355.26,1366.8 L356.80,1368.1 L358.35,1369.3 L359.91,1370.6 L361.47,1371.8 L363.04,1373.1 L364.61,1374.3 L366.19,1375.5 L367.78,1376.8 L369.38,1378.0 L370.98,1379.2 L372.58,1380.4 L374.20,1381.6 L375.81,1382.7 L377.44,1383.9 L379.07,1385.1 L380.71,1386.2 L382.35,1387.4 L384.00,1388.5 L385.66,1389.6 L387.32,1390.7 L388.98,1391.9 L390.66,1393.0 L392.34,1394.0 L394.02,1395.1 L395.71,1396.2 L397.41,1397.3 L399.11,1398.3 L400.82,1399.4 L402.53,1400.4 L404.25,1401.4 L405.98,1402.4 L407.71,1403.4 L409.44,1404.4 L411.18,1405.4 L412.93,1406.4 L414.68,1407.4 L416.43,1408.4 L418.20,1409.3 L419.96,1410.3 L421.73,1411.2 L423.50,1412.1 L425.28,1413.0 L427.07,1413.9 L428.85,1414.9 L430.64,1415.7 L432.44,1416.6 L434.24,1417.5 L436.04,1418.4 L437.85,1419.2 L439.66,1420.1 L441.48,1420.9 L443.30,1421.8 L445.12,1422.6 L446.95,1423.4 L448.77,1424.2 L450.61,1425.0 L452.44,1425.8 L454.28,1426.6 L456.13,1427.4 L457.97,1428.2 L459.82,1429.0 L461.67,1429.7 L463.53,1430.5 L465.39,1431.2 L467.25,1432.0 L469.11,1432.7 L470.98,1433.4 L472.85,1434.1 L474.72,1434.9 L476.59,1435.6 L478.47,1436.3 L480.35,1436.9 L482.23,1437.6 L484.11,1438.3 L486.00,1439.0 L487.89,1439.7 L489.78,1440.3 L491.67,1441.0 L493.56,1441.6 L495.46,1442.3 L497.36,1442.9 L499.26,1443.5 L501.16,1444.1 L503.07,1444.8 L504.98,1445.4 L506.88,1446.0 L508.79,1446.6 L510.71,1447.2 L512.62,1447.8 L514.54,1448.3 L516.45,1448.9 L518.37,1449.5 L520.29,1450.1 L522.21,1450.6 L524.14,1451.2 L526.06,1451.7 L527.99,1452.3 L529.92,1452.8 L531.84,1453.4 L533.77,1453.9 L535.71,1454.4 L537.64,1454.9 L539.57,1455.5 L541.51,1456.0 L543.45,1456.5 L545.38,1457.0 L547.32,1457.5 L549.26,1458.0 L551.20,1458.5 L553.15,1459.0 L555.09,1459.4 L557.03,1459.9 L558.98,1460.4 L560.92,1460.9 L562.87,1461.3 L564.82,1461.8 L566.77,1462.2 L568.72,1462.7 L570.67,1463.2 L572.62,1463.6 L574.57,1464.0 L576.53,1464.5 L578.48,1464.9 L580.44,1465.4 L582.39,1465.8 L584.35,1466.2 L586.31,1466.6 L588.26,1467.1 L590.22,1467.5 L592.18,1467.9 L594.14,1468.3 L596.10,1468.7 L598.06,1469.1 L600.02,1469.5 L601.99,1469.9 L603.95,1470.3 L605.91,1470.7 L607.88,1471.1 L609.84,1471.5 L611.80,1471.9 L613.77,1472.2 L615.74,1472.6 L617.70,1473.0 L619.67,1473.4 L621.64,1473.8 L623.60,1474.1 L625.57,1474.5 L627.54,1474.9 L629.51,1475.2 L631.48,1475.6 L633.45,1475.9 L635.42,1476.3 L637.39,1476.7 L639.36,1477.0 L641.33,1477.4 L643.30,1477.7 L645.27,1478.1 L647.24,1478.4 L649.22,1478.8 L651.19,1479.1 L653.16,1479.4 L655.14,1479.8 L657.11,1480.1 L659.08,1480.5 L661.06,1480.8 L663.03,1481.1 L665.01,1481.5 L666.98,1481.8 L668.96,1482.1 L670.93,1482.4 L672.91,1482.8 L674.89,1483.1 L676.86,1483.4 L678.84,1483.7 L680.82,1484.0 L682.80,1484.3 L684.77,1484.7 L686.75,1485.0 L688.73,1485.3 L690.71,1485.6 L692.69,1485.9 L694.67,1486.2 L696.65,1486.5 L698.63,1486.8 L700.61,1487.1 L702.59,1487.4 L704.57,1487.7 L706.55,1488.0 L708.53,1488.2 L710.51,1488.5 L712.49,1488.8 L714.48,1489.1 L716.46,1489.4 L718.44,1489.7 L720.42,1490.0 L722.41,1490.2 L724.39,1490.5 L726.37,1490.8 L728.36,1491.1 L730.34,1491.3 L732.32,1491.6 L734.31,1491.9 L736.29,1492.1 L738.28,1492.4 L740.26,1492.7 L742.25,1492.9 L744.23,1493.2 L746.22,1493.4 L748.20,1493.7 L750.19,1494.0 L752.18,1494.2 L754.16,1494.5 L756.15,1494.7 L758.13,1495.0 L760.12,1495.2 L762.11,1495.5 L764.10,1495.7 L766.08,1495.9 L768.07,1496.2 L770.06,1496.4 L772.05,1496.7 L774.03,1496.9 L776.02,1497.1 L778.01,1497.4 L780.00,1497.6 L781.99,1497.8 L783.98,1498.1 L785.97,1498.3 L787.96,1498.5 L789.95,1498.8 L791.94,1499.0 L793.92,1499.2 L795.91,1499.4 L797.90,1499.7 L799.90,1499.9 L801.89,1500.1 L803.88,1500.3 L805.87,1500.5 L807.86,1500.7 L809.85,1501.0 L811.84,1501.2 L813.83,1501.4 L815.82,1501.6 L817.81,1501.8 L819.80,1502.0 L821.80,1502.2 L823.79,1502.4 L825.78,1502.6 L827.77,1502.8 L829.76,1503.0 L831.76,1503.2 L833.75,1503.4 L835.74,1503.6 L837.73,1503.8 L839.73,1504.0 L841.72,1504.2 L843.71,1504.4 L845.70,1504.6 L847.70,1504.8 L849.69,1505.0 L851.68,1505.2 L853.68,1505.4 L855.67,1505.6 L857.66,1505.7 L859.66,1505.9 L861.65,1506.1 L863.65,1506.3 L865.64,1506.5 L867.63,1506.7 L869.63,1506.8 L871.62,1507.0 L873.62,1507.2 L875.61,1507.4 L877.60,1507.6 L879.60,1507.7 L881.59,1507.9 L883.59,1508.1 L885.58,1508.3 L887.58,1508.4 L889.57,1508.6 L891.57,1508.8 L893.56,1508.9 L895.56,1509.1 L897.55,1509.3 L899.55,1509.5 L901.54,1509.6 L903.54,1509.8 L905.53,1510.0 L907.53,1510.1 L909.53,1510.3 L911.52,1510.4 L913.52,1510.6 L915.51,1510.8 L917.51,1510.9 L919.50,1511.1 L921.50,1511.3 L923.50,1511.4 L925.49,1511.6 L927.49,1511.7 L929.48,1511.9 L931.48,1512.0 L933.48,1512.2 L935.47,1512.3 L937.47,1512.5 L939.47,1512.7 L941.46,1512.8 L943.46,1513.0 L945.46,1513.1 L947.45,1513.3 L949.45,1513.4 L951.45,1513.6 L953.44,1513.7 L955.44,1513.8 L957.44,1514.0 L959.43,1514.1 L961.43,1514.3 L963.43,1514.4 L965.43,1514.6 L967.42,1514.7 L969.42,1514.9 L971.42,1515.0 L973.41,1515.1 L975.41,1515.3 L977.41,1515.4 L979.41,1515.6 L981.40,1515.7 L983.40,1515.8 L985.40,1516.0 L987.40,1516.1 L989.40,1516.2 L991.39,1516.4 L993.39,1516.5 L995.39,1516.6 L997.39,1516.8 L999.39,1516.9 L1001.38,1517.0 L1003.38,1517.2 L1005.38,1517.3 L1007.38,1517.4 L1009.38,1517.6 L1011.37,1517.7 L1013.37,1517.8 L1015.37,1517.9 L1017.37,1518.1 L1019.37,1518.2 L1021.37,1518.3 L1023.36,1518.4 L1025.36,1518.6 L1027.36,1518.7 L1029.36,1518.8 L1031.36,1518.9 L1033.36,1519.0 L1035.36,1519.2 L1037.35,1519.3 L1039.35,1519.4 L1041.35,1519.5 L1043.35,1519.6 L1045.35,1519.8 L1047.35,1519.9 L1049.35,1520.0 L1051.35,1520.1 L1053.34,1520.2 L1055.34,1520.3 L1057.34,1520.5 L1059.34,1520.6 L1061.34,1520.7 L1063.34,1520.8 L1065.34,1520.9 L1067.34,1521.0 L1069.34,1521.1 L1071.34,1521.3 L1073.34,1521.4 L1075.34,1521.5 L1077.33,1521.6 L1079.33,1521.7 L1081.33,1521.8 L1083.33,1521.9 L1085.33,1522.0 L1087.33,1522.1 L1089.33,1522.2 L1091.33,1522.3 L1093.33,1522.4 L1095.33,1522.5 L1097.33,1522.6 L1099.33,1522.8 L1101.33,1522.9 L1103.33,1523.0 L1105.33,1523.1 L1107.33,1523.2 L1109.33,1523.3 L1111.33,1523.4 L1113.33,1523.5 L1115.33,1523.6 L1117.33,1523.7 L1119.33,1523.8 L1121.33,1523.9 L1123.33,1524.0 L1125.33,1524.1 L1127.33,1524.2 L1129.33,1524.3 L1131.33,1524.4 L1133.33,1524.5 L1135.33,1524.5 L1137.33,1524.6 L1139.33,1524.7 L1141.33,1524.8 L1143.33,1524.9 L1145.33,1525.0 L1147.33,1525.1 L1149.33,1525.2 L1151.33,1525.3 L1153.33,1525.4 L1155.33,1525.5 L1157.33,1525.6 L1159.33,1525.7 L1161.33,1525.8 L1163.33,1525.9 L1165.33,1525.9 L1167.33,1526.0 L1169.33,1526.1 L1171.33,1526.2 L1173.33,1526.3 L1175.33,1526.4 L1177.33,1526.5 L1179.33,1526.6 L1181.33,1526.7 L1183.33,1526.7 L1185.33,1526.8 L1187.33,1526.9 L1189.33,1527.0 L1191.33,1527.1 L1193.33,1527.2 L1195.33,1527.3 L1197.33,1527.3 L1199.33,1527.4 L1201.34,1527.5 L1203.34,1527.6 L1205.34,1527.7 L1207.34,1527.8 L1209.34,1527.8 L1211.34,1527.9 L1213.34,1528.0 L1215.34,1528.1 L1217.34,1528.2 L1219.34,1528.2 L1221.34,1528.3 L1223.34,1528.4 L1225.34,1528.5 L1227.34,1528.6 L1229.34,1528.7 L1231.35,1528.7 L1233.35,1528.8 L1235.35,1528.9 L1237.35,1529.0 L1239.35,1529.0 L1241.35,1529.1 L1243.35,1529.2 L1245.35,1529.3 L1247.35,1529.4 L1249.35,1529.4 L1251.35,1529.5 L1253.35,1529.6 L1255.35,1529.7 L1257.36,1529.7 L1259.36,1529.8 L1261.36,1529.9 L1263.36,1530.0 L1265.36,1530.0 L1267.36,1530.1 L1269.36,1530.2 L1271.36,1530.3 L1273.36,1530.4 L1275.36,1530.4 L1277.36,1530.5 L1279.37,1530.6 L1281.37,1530.6 L1283.37,1530.7 L1285.37,1530.8 L1287.37,1530.9 L1289.37,1530.9 L1291.37,1531.0 L1293.37,1531.1 L1295.37,1531.2 L1297.37,1531.2 L1299.37,1531.3 L1301.38,1531.4 L1303.38,1531.5 L1305.38,1531.5 L1307.38,1531.6 L1309.38,1531.7 L1311.38,1531.7 L1313.38,1531.8 L1315.38,1531.9 L1317.38,1532.0 L1319.39,1532.0 L1321.39,1532.1 L1323.39,1532.2 L1325.39,1532.2 L1327.39,1532.3 L1329.39,1532.4 L1331.39,1532.4 L1333.39,1532.5 L1335.39,1532.6 L1337.39,1532.7 L1339.40,1532.7 L1341.40,1532.8 L1343.40,1532.9 L1345.40,1532.9 L1347.40,1533.0 L1349.40,1533.1 L1351.40,1533.1 L1353.40,1533.2 L1355.40,1533.3 L1357.41,1533.4 L1359.41,1533.4 L1361.41,1533.5 L1363.41,1533.6 L1365.41,1533.6 L1367.41,1533.7 L1369.41,1533.8 L1371.41,1533.8 L1373.41,1533.9 L1375.42,1534.0 L1377.42,1534.0 L1379.42,1534.1 L1381.42,1534.2 L1383.42,1534.2 L1385.42,1534.3 L1387.42,1534.4 L1389.42,1534.5 L1391.43,1534.5 L1393.43,1534.6 L1395.43,1534.7 L1397.43,1534.7 L1399.43,1534.8 L1401.43,1534.9 L1403.43,1534.9 L1405.43,1535.0 L1407.43,1535.1 L1409.44,1535.1 L1411.44,1535.2 L1413.44,1535.3 L1415.44,1535.3 L1417.44,1535.4 L1419.44,1535.5 L1421.44,1535.5 L1423.44,1535.6 L1425.44,1535.7 L1427.45,1535.8 L1429.45,1535.8 L1431.45,1535.9 L1433.45,1536.0 L1435.45,1536.0 L1437.45,1536.1 L1439.45,1536.2 L1441.45,1536.2 L1443.45,1536.3 L1445.46,1536.4 L1447.46,1536.4 L1449.46,1536.5 L1451.46,1536.6 L1453.46,1536.6 L1455.46,1536.7 L1457.46,1536.8 L1459.46,1536.9 L1461.46,1536.9 L1463.47,1537.0" fill="none" stroke="#FF00FF" stroke-width="7" stroke-linecap="round" stroke-linejoin="round"/>
<path d="M100.57,1255.7 L101.69,1257.4 L102.82,1259.1 L103.95,1260.7 L105.10,1262.4 L106.25,1264.0 L107.40,1265.7 L108.57,1267.3 L109.74,1268.9 L110.92,1270.6 L112.11,1272.2 L113.30,1273.8 L114.50,1275.4 L115.71,1277.0 L116.93,1278.6 L118.15,1280.2 L119.39,1281.8 L120.62,1283.4 L121.87,1285.0 L123.12,1286.5 L124.38,1288.1 L125.65,1289.7 L126.92,1291.2 L128.21,1292.8 L129.50,1294.3 L130.79,1295.8 L132.09,1297.4 L133.40,1298.9 L134.72,1300.4 L136.04,1301.9 L137.38,1303.4 L138.71,1304.9 L140.06,1306.4 L141.41,1307.9 L142.77,1309.4 L144.13,1310.9 L145.51,1312.3 L146.88,1313.8 L148.27,1315.3 L149.66,1316.7 L151.06,1318.1 L152.46,1319.6 L153.88,1321.0 L155.29,1322.4 L156.72,1323.9 L158.15,1325.3 L159.59,1326.7 L161.03,1328.1 L162.48,1329.5 L163.94,1330.8 L165.40,1332.2 L166.87,1333.6 L168.34,1335.0 L169.82,1336.3 L171.31,1337.7 L172.80,1339.0 L174.30,1340.4 L175.81,1341.7 L177.32,1343.0 L178.83,1344.3 L180.36,1345.6 L181.89,1347.0 L183.42,1348.3 L184.96,1349.5 L186.50,1350.8 L188.06,1352.1 L189.61,1353.4 L191.17,1354.6 L192.74,1355.9 L194.31,1357.2 L195.89,1358.4 L197.48,1359.6 L199.06,1360.9 L200.66,1362.1 L202.26,1363.3 L203.86,1364.5 L205.47,1365.7 L207.09,1366.9 L208.70,1368.1 L210.33,1369.3 L211.96,1370.5 L213.59,1371.6 L215.23,1372.8 L216.88,1374.0 L218.52,1375.1 L220.18,1376.3 L221.84,1377.4 L223.50,1378.5 L225.16,1379.6 L226.84,1380.8 L228.51,1381.9 L230.19,1383.0 L231.88,1384.1 L233.57,1385.2 L235.26,1386.2 L236.96,1387.3 L238.66,1388.4 L240.37,1389.4 L242.08,1390.5 L243.79,1391.5 L245.51,1392.6 L247.23,1393.6 L248.96,1394.7 L250.69,1395.7 L252.42,1396.7 L254.16,1397.7 L255.90,1398.7 L257.64,1399.7 L259.39,1400.7 L261.15,1401.7 L262.90,1402.7 L264.66,1403.6 L266.42,1404.6 L268.19,1405.6 L269.96,1406.5 L271.73,1407.5 L273.51,1408.4 L275.29,1409.3 L277.07,1410.2 L278.86,1411.2 L280.65,1412.1 L282.44,1413.0 L284.24,1413.9 L286.04,1414.8 L287.84,1415.7 L289.65,1416.6 L291.45,1417.4 L293.27,1418.3 L295.08,1419.2 L296.90,1420.0 L298.72,1420.9 L300.54,1421.7 L302.36,1422.6 L304.19,1423.4 L306.02,1424.2 L307.86,1425.1 L309.69,1425.9 L311.53,1426.7 L313.37,1427.5 L315.22,1428.3 L317.06,1429.1 L318.91,1429.9 L320.76,1430.7 L322.61,1431.4 L324.47,1432.2 L326.33,1433.0 L328.19,1433.7 L330.05,1434.5 L331.92,1435.2 L333.78,1436.0 L335.65,1436.7 L337.52,1437.5 L339.40,1438.2 L341.27,1438.9 L343.15,1439.6 L345.03,1440.3 L346.91,1441.0 L348.80,1441.7 L350.68,1442.4 L352.57,1443.1 L354.46,1443.8 L356.35,1444.5 L358.24,1445.2 L360.14,1445.8 L362.04,1446.5 L363.94,1447.2 L365.84,1447.8 L367.74,1448.5 L369.64,1449.1 L371.55,1449.7 L373.45,1450.4 L375.36,1451.0 L377.27,1451.6 L379.19,1452.3 L381.10,1452.9 L383.02,1453.5 L384.93,1454.1 L386.85,1454.7 L388.77,1455.3 L390.69,1455.9 L392.61,1456.5 L394.54,1457.0 L396.46,1457.6 L398.39,1458.2 L400.32,1458.7 L402.25,1459.3 L404.18,1459.9 L406.11,1460.4 L408.04,1461.0 L409.98,1461.5 L411.91,1462.1 L413.85,1462.6 L415.79,1463.1 L417.73,1463.7 L419.67,1464.2 L421.61,1464.7 L423.55,1465.2 L425.50,1465.7 L427.44,1466.2 L429.39,1466.7 L431.34,1467.2 L433.28,1467.7 L435.23,1468.2 L437.18,1468.7 L439.13,1469.2 L441.09,1469.7 L443.04,1470.1 L444.99,1470.6 L446.95,1471.1 L448.91,1471.5 L450.86,1472.0 L452.82,1472.4 L454.78,1472.9 L456.74,1473.3 L458.70,1473.8 L460.66,1474.2 L462.62,1474.6 L464.59,1475.1 L466.55,1475.5 L468.51,1475.9 L470.48,1476.4 L472.44,1476.8 L474.41,1477.2 L476.38,1477.6 L478.35,1478.0 L480.32,1478.4 L482.29,1478.8 L484.26,1479.2 L486.23,1479.6 L488.20,1480.0 L490.17,1480.4 L492.14,1480.8 L494.12,1481.1 L496.09,1481.5 L498.07,1481.9 L500.04,1482.3 L502.02,1482.6 L503.99,1483.0 L505.97,1483.3 L507.95,1483.7 L509.93,1484.1 L511.91,1484.4 L513.89,1484.8 L515.87,1485.1 L517.85,1485.4 L519.83,1485.8 L521.81,1486.1 L523.79,1486.5 L525.77,1486.8 L527.75,1487.1 L529.74,1487.4 L531.72,1487.8 L533.71,1488.1 L535.69,1488.4 L537.68,1488.7 L539.66,1489.0 L541.65,1489.3 L543.63,1489.6 L545.62,1489.9 L547.61,1490.3 L549.59,1490.5 L551.58,1490.8 L553.57,1491.1 L555.56,1491.4 L557.55,1491.7 L559.54,1492.0 L561.53,1492.3 L563.52,1492.6 L565.51,1492.9 L567.50,1493.1 L569.49,1493.4 L571.48,1493.7 L573.47,1493.9 L575.46,1494.2 L577.46,1494.5 L579.45,1494.7 L581.44,1495.0 L583.43,1495.3 L585.43,1495.5 L587.42,1495.8 L589.42,1496.0 L591.41,1496.3 L593.40,1496.5 L595.40,1496.8 L597.39,1497.0 L599.39,1497.3 L601.38,1497.5 L603.38,1497.7 L605.38,1498.0 L607.37,1498.2 L609.37,1498.4 L611.36,1498.7 L613.36,1498.9 L615.36,1499.1 L617.35,1499.4 L619.35,1499.6 L621.35,1499.8 L623.35,1500.0 L625.35,1500.2 L627.34,1500.5 L629.34,1500.7 L631.34,1500.9 L633.34,1501.1 L635.34,1501.3 L637.34,1501.5 L639.33,1501.7 L641.33,1501.9 L643.33,1502.1 L645.33,1502.3 L647.33,1502.5 L649.33,1502.7 L651.33,1502.9 L653.33,1503.1 L655.33,1503.3 L657.33,1503.5 L659.33,1503.7 L661.33,1503.9 L663.33,1504.1 L665.33,1504.3 L667.34,1504.5 L669.34,1504.7 L671.34,1504.9 L673.34,1505.1 L675.34,1505.2 L677.34,1505.4 L679.34,1505.6 L681.34,1505.8 L683.35,1506.0 L685.35,1506.2 L687.35,1506.3 L689.35,1506.5 L691.35,1506.7 L693.36,1506.9 L695.36,1507.0 L697.36,1507.2 L699.36,1507.4 L701.36,1507.6 L703.37,1507.7 L705.37,1507.9 L707.37,1508.1 L709.37,1508.3 L711.38,1508.4 L713.38,1508.6 L715.38,1508.8 L717.38,1508.9 L719.39,1509.1 L721.39,1509.3 L723.39,1509.4 L725.40,1509.6 L727.40,1509.8 L729.40,1509.9 L731.41,1510.1 L733.41,1510.3 L735.41,1510.4 L737.41,1510.6 L739.42,1510.7 L741.42,1510.9 L743.42,1511.1 L745.43,1511.2 L747.43,1511.4 L749.43,1511.6 L751.44,1511.7 L753.44,1511.9 L755.44,1512.1 L757.45,1512.2 L759.45,1512.4 L761.45,1512.5 L763.46,1512.7 L765.46,1512.9 L767.46,1513.0 L769.47,1513.2 L771.47,1513.4 L773.47,1513.5 L775.48,1513.7 L777.48,1513.8 L779.48,1514.0 L781.48,1514.2 L783.49,1514.3 L785.49,1514.5 L787.49,1514.7 L789.50,1514.8 L791.50,1515.0 L793.50,1515.2 L795.51,1515.3" fill="none" stroke="#008000" stroke-width="7" stroke-linecap="round" stroke-linejoin="round"/>
<path d="M102.68,1095.1 L103.25,1097.0 L103.82,1098.9 L104.40,1100.8 L104.98,1102.8 L105.57,1104.7 L106.16,1106.6 L106.75,1108.5 L107.36,1110.4 L107.96,1112.3 L108.57,1114.2 L109.19,1116.1 L109.81,1118.0 L110.43,1119.9 L111.07,1121.8 L111.70,1123.7 L112.34,1125.6 L112.99,1127.5 L113.64,1129.4 L114.29,1131.3 L114.95,1133.2 L115.61,1135.1 L116.28,1137.0 L116.96,1138.9 L117.64,1140.8 L118.33,1142.7 L119.02,1144.5 L119.71,1146.4 L120.41,1148.3 L121.12,1150.2 L121.83,1152.0 L122.54,1153.9 L123.27,1155.8 L123.99,1157.7 L124.73,1159.5 L125.46,1161.4 L126.21,1163.2 L126.95,1165.1 L127.71,1167.0 L128.47,1168.8 L129.23,1170.7 L130.00,1172.5 L130.78,1174.4 L131.56,1176.2 L132.35,1178.0 L133.14,1179.9 L133.94,1181.7 L134.74,1183.6 L135.55,1185.4 L136.36,1187.2 L137.18,1189.1 L138.01,1190.9 L138.84,1192.7 L139.68,1194.5 L140.53,1196.3 L141.38,1198.2 L142.23,1200.0 L143.09,1201.8 L143.96,1203.6 L144.83,1205.4 L145.71,1207.2 L146.60,1209.0 L147.49,1210.8 L148.39,1212.6 L149.29,1214.4 L150.20,1216.1 L151.12,1217.9 L152.04,1219.7 L152.97,1221.5 L153.91,1223.3 L154.85,1225.0 L155.80,1226.8 L156.75,1228.5 L157.71,1230.3 L158.68,1232.1 L159.65,1233.8 L160.63,1235.6 L161.62,1237.3 L162.61,1239.0 L163.61,1240.8 L164.62,1242.5 L165.63,1244.2 L166.65,1246.0 L167.68,1247.7 L168.71,1249.4 L169.75,1251.1 L170.79,1252.8 L171.85,1254.5 L172.91,1256.2 L173.98,1257.9 L175.05,1259.6 L176.13,1261.3 L177.22,1263.0 L178.31,1264.7 L179.41,1266.3 L180.52,1268.0 L181.64,1269.7 L182.76,1271.3 L183.89,1273.0 L185.03,1274.6 L186.17,1276.3 L187.33,1277.9 L188.48,1279.6 L189.65,1281.2 L190.82,1282.8 L192.01,1284.4 L193.19,1286.0 L194.39,1287.7 L195.59,1289.3 L196.80,1290.9 L198.02,1292.4 L199.24,1294.0 L200.48,1295.6 L201.72,1297.2 L202.96,1298.8 L204.22,1300.3 L205.48,1301.9 L206.75,1303.4 L208.03,1305.0 L209.32,1306.5 L210.61,1308.0 L211.91,1309.6 L213.22,1311.1 L214.53,1312.6 L215.86,1314.1 L217.19,1315.6 L218.53,1317.1 L219.87,1318.6 L221.23,1320.0 L222.59,1321.5 L223.96,1323.0 L225.34,1324.4 L226.72,1325.9 L228.12,1327.3 L229.52,1328.7 L230.93,1330.2 L232.34,1331.6 L233.77,1333.0 L235.20,1334.4 L236.64,1335.8 L238.09,1337.2 L239.54,1338.6 L241.01,1339.9 L242.48,1341.3 L243.96,1342.6 L245.44,1344.0 L246.94,1345.3 L248.44,1346.6 L249.95,1348.0 L251.46,1349.3 L252.99,1350.6 L254.52,1351.9 L256.06,1353.2 L257.60,1354.4 L259.16,1355.7 L260.72,1357.0 L262.28,1358.2 L263.85,1359.4 L265.43,1360.7 L267.02,1361.9 L268.61,1363.1 L270.21,1364.3 L271.81,1365.5 L273.42,1366.7 L275.04,1367.9 L276.66,1369.1 L278.29,1370.3 L279.93,1371.4 L281.56,1372.6 L283.21,1373.7 L284.86,1374.8 L286.52,1376.0 L288.18,1377.1 L289.84,1378.2 L291.52,1379.3 L293.19,1380.4 L294.87,1381.5 L296.56,1382.6 L298.25,1383.7 L299.95,1384.7 L301.65,1385.8 L303.36,1386.8 L305.07,1387.9 L306.78,1388.9 L308.50,1389.9 L310.22,1391.0 L311.95,1392.0 L313.68,1393.0 L315.42,1394.0 L317.16,1395.0 L318.90,1396.0 L320.65,1397.0 L322.40,1397.9 L324.15,1398.9 L325.91,1399.9 L327.67,1400.8 L329.44,1401.8 L331.21,1402.7 L332.98,1403.6 L334.76,1404.6 L336.54,1405.5 L338.32,1406.4 L340.11,1407.3 L341.90,1408.2 L343.69,1409.1 L345.48,1410.0 L347.28,1410.9 L349.09,1411.8 L350.89,1412.6 L352.70,1413.5 L354.51,1414.3 L356.32,1415.2 L358.14,1416.0 L359.95,1416.9 L361.78,1417.7 L363.60,1418.6 L365.43,1419.4 L367.25,1420.2 L369.09,1421.0 L370.92,1421.8 L372.75,1422.6 L374.59,1423.4 L376.43,1424.2 L378.28,1425.0 L380.12,1425.8 L381.97,1426.6 L383.82,1427.3 L385.67,1428.1 L387.52,1428.9 L389.38,1429.6 L391.24,1430.4 L393.10,1431.1 L394.96,1431.9 L396.82,1432.6 L398.69,1433.3 L400.55,1434.1 L402.42,1434.8 L404.29,1435.5 L406.16,1436.2 L408.04,1436.9 L409.91,1437.6 L411.79,1438.3 L413.67,1439.0 L415.55,1439.7 L417.43,1440.4 L419.31,1441.1 L421.20,1441.8 L423.09,1442.4 L424.97,1443.1 L426.86,1443.8 L428.75,1444.4 L430.65,1445.1 L432.54,1445.8 L434.43,1446.4 L436.33,1447.1 L438.23,1447.7 L440.13,1448.4 L442.02,1449.0 L443.93,1449.6 L445.83,1450.3 L447.73,1450.9 L449.64,1451.5 L451.54,1452.1 L453.45,1452.7 L455.36,1453.4 L457.27,1454.0 L459.18,1454.6 L461.09,1455.2 L463.00,1455.8 L464.91,1456.4 L466.83,1456.9 L468.75,1457.5 L470.66,1458.1 L472.58,1458.7 L474.50,1459.3 L476.42,1459.8 L478.35,1460.4 L480.27,1461.0 L482.19,1461.5 L484.12,1462.1 L486.05,1462.6 L487.97,1463.2 L489.90,1463.7 L491.83,1464.3 L493.76,1464.8 L495.69,1465.3 L497.63,1465.9 L499.56,1466.4 L501.50,1466.9 L503.43,1467.4 L505.37,1467.9 L507.31,1468.4 L509.25,1468.9 L511.19,1469.4 L513.13,1469.9 L515.07,1470.4 L517.01,1470.9 L518.96,1471.4 L520.90,1471.9 L522.85,1472.4 L524.80,1472.8 L526.74,1473.3 L528.69,1473.8 L530.64,1474.2 L532.59,1474.7 L534.55,1475.2 L536.50,1475.6 L538.45,1476.1 L540.41,1476.5 L542.36,1476.9 L544.32,1477.4 L546.27,1477.8 L548.23,1478.2 L550.19,1478.6 L552.15,1479.1 L554.11,1479.5 L556.07,1479.9 L558.03,1480.3 L560.00,1480.7 L561.96,1481.1 L563.93,1481.5 L565.89,1481.9 L567.86,1482.3 L569.82,1482.7 L571.79,1483.0 L573.76,1483.4 L575.73,1483.8 L577.70,1484.1 L579.67,1484.5 L581.64,1484.9 L583.61,1485.2 L585.59,1485.6 L587.56,1485.9 L589.53,1486.3 L591.51,1486.6 L593.48,1486.9 L595.46,1487.3 L597.44,1487.6 L599.41,1487.9 L601.39,1488.2 L603.37,1488.6 L605.35,1488.9 L607.33,1489.2 L609.31,1489.5 L611.29,1489.8 L613.27,1490.1 L615.26,1490.4 L617.24,1490.7 L619.22,1490.9 L621.21,1491.2 L623.19,1491.5 L625.18,1491.8 L627.16,1492.0 L629.15,1492.3 L631.14,1492.6 L633.12,1492.8 L635.11,1493.1 L637.10,1493.3 L639.09,1493.6 L641.08,1493.8 L643.07,1494.1 L645.06,1494.3 L647.05,1494.5 L649.04,1494.7 L651.03,1495.0 L653.02,1495.2 L655.02,1495.4 L657.01,1495.6 L659.00,1495.8 L661.00,1496.0 L662.99,1496.2 L664.99,1496.4 L666.98,1496.6 L668.98,1496.7 L670.97,1496.9 L672.97,1497.1 L674.97,1497.3 L676.96,1497.4 L678.96,1497.6 L680.96,1497.7 L682.96,1497.9 L684.96,1498.0 L686.96,1498.2 L688.96,1498.3 L690.95,1498.4 L692.95,1498.6 L694.95,1498.7 L696.96,1498.8 L698.96,1498.9 L700.96,1499.0 L702.96,1499.1 L704.96,1499.2 L706.96,1499.3 L708.96,1499.4 L710.97,1499.5 L712.97,1499.5 L714.97,1499.6 L716.97,1499.7 L718.98,1499.7 L720.98,1499.8 L722.98,1499.8 L724.99,1499.9 L726.99,1499.9 L728.99,1499.9 L731.00,1500.0 L733.00,1500.0 L735.01,1500.0 L737.01,1500.0 L739.01,1500.0 L741.02,1500.0 L743.02,1500.0 L745.02,1500.0 L747.03,1500.0 L749.03,1500.0 L751.04,1499.9 L753.04,1499.9 L755.04,1499.8 L757.05,1499.8 L759.05,1499.7 L761.05,1499.7 L763.05,1499.6 L765.06,1499.6 L767.06,1499.5 L769.06,1499.4 L771.06,1499.3 L773.07,1499.2 L775.07,1499.1 L777.07,1499.0 L779.07,1498.9 L781.07,1498.8 L783.07,1498.6 L785.07,1498.5 L787.07,1498.4 L789.07,1498.2 L791.06,1498.1 L793.06,1497.9 L795.06,1497.8 L797.05,1497.6 L799.05,1497.4 L801.05,1497.2 L803.04,1497.0 L805.04,1496.8 L807.03,1496.6 L809.02,1496.4 L811.01,1496.2 L813.00,1496.0 L815.00,1495.7 L816.99,1495.5 L818.97,1495.3 L820.96,1495.0 L822.95,1494.8 L824.94,1494.5 L826.92,1494.2 L828.91,1493.9 L830.89,1493.7 L832.87,1493.4 L834.85,1493.1 L836.83,1492.8 L838.81,1492.4 L840.79,1492.1 L842.77,1491.8 L844.74,1491.5 L846.72,1491.1 L848.69,1490.8 L850.66,1490.4 L852.63,1490.1 L854.60,1489.7 L856.57,1489.3 L858.54,1488.9 L860.50,1488.5 L862.47,1488.1 L864.43,1487.7 L866.39,1487.3 L868.35,1486.9 L870.31,1486.5 L872.26,1486.0 L874.22,1485.6 L876.17,1485.2 L878.13,1484.7 L880.08,1484.3 L882.03,1483.8 L883.98,1483.4 L885.94,1482.9 L887.89,1482.4 L889.84,1482.0 L891.79,1481.5 L893.74,1481.1 L895.69,1480.6 L897.64,1480.2 L899.59,1479.7 L901.54,1479.2 L903.50,1478.8 L905.45,1478.4 L907.40,1477.9 L909.36,1477.5 L911.32,1477.0 L913.27,1476.6 L915.23,1476.2 L917.19,1475.8 L919.15,1475.3 L921.11,1474.9 L923.08,1474.5 L925.04,1474.2 L927.01,1473.8 L928.98,1473.4 L930.95,1473.0 L932.93,1472.7 L934.90,1472.4 L936.88,1472.0 L938.86,1471.7 L940.84,1471.4 L942.82,1471.1 L944.81,1470.9 L946.79,1470.6 L948.78,1470.4 L950.77,1470.1 L952.77,1469.9 L954.76,1469.7 L956.76,1469.6 L958.75,1469.4 L960.75,1469.3 L962.75,1469.1 L964.76,1469.0 L966.76,1469.0 L968.76,1468.9 L970.76,1468.9 L972.77,1468.9 L974.77,1468.9 L976.78,1468.9 L978.78,1469.0 L980.78,1469.1 L982.78,1469.2 L984.78,1469.4 L986.78,1469.5 L988.77,1469.7 L990.77,1469.9 L992.76,1470.1 L994.75,1470.4 L996.73,1470.6 L998.72,1470.9 L1000.70,1471.2 L1002.68,1471.5 L1004.65,1471.9 L1006.62,1472.2 L1008.59,1472.6 L1010.56,1473.0 L1012.52,1473.4 L1014.48,1473.8 L1016.44,1474.2 L1018.40,1474.7 L1020.35,1475.1 L1022.30,1475.6 L1024.24,1476.1 L1026.18,1476.6 L1028.12,1477.1 L1030.06,1477.6 L1031.99,1478.1 L1033.93,1478.6 L1035.86,1479.2 L1037.78,1479.7 L1039.71,1480.3 L1041.63,1480.8 L1043.55,1481.4 L1045.47,1482.0 L1047.38,1482.6 L1049.30,1483.2 L1051.21,1483.8 L1053.12,1484.4 L1055.03,1485.0 L1056.94,1485.6 L1058.85,1486.2 L1060.76,1486.8 L1062.66,1487.4 L1064.57,1488.1 L1066.47,1488.7 L1068.37,1489.3 L1070.28,1490.0 L1072.18,1490.6 L1074.08,1491.2 L1075.98,1491.8 L1077.89,1492.5 L1079.79,1493.1 L1081.69,1493.7 L1083.59,1494.4 L1085.50,1495.0 L1087.40,1495.6 L1089.31,1496.2 L1091.22,1496.8 L1093.12,1497.4 L1095.03,1498.1 L1096.94,1498.7 L1098.85,1499.3 L1100.77,1499.9 L1102.68,1500.4 L1104.60,1501.0 L1106.52,1501.6 L1108.44,1502.2 L1110.36,1502.7 L1112.29,1503.3 L1114.21,1503.9 L1116.14,1504.4 L1118.07,1504.9 L1120.00,1505.5 L1121.93,1506.0 L1123.87,1506.5 L1125.81,1507.0 L1127.74,1507.5 L1129.68,1508.1 L1131.62,1508.5 L1133.57,1509.0 L1135.51,1509.5 L1137.46,1510.0 L1139.40,1510.5 L1141.35,1510.9 L1143.30,1511.4 L1145.25,1511.9 L1147.21,1512.3 L1149.16,1512.8 L1151.12,1513.2 L1153.07,1513.6 L1155.03,1514.0 L1156.99,1514.5 L1158.95,1514.9 L1160.92,1515.3 L1162.88,1515.7 L1164.84,1516.1 L1166.81,1516.5 L1168.77,1516.9 L1170.74,1517.2 L1172.71,1517.6 L1174.68,1518.0 L1176.65,1518.3 L1178.62,1518.7 L1180.60,1519.0 L1182.57,1519.4 L1184.55,1519.7 L1186.52,1520.1 L1188.50,1520.4 L1190.48,1520.7 L1192.46,1521.0 L1194.44,1521.3 L1196.42,1521.6 L1198.40,1521.9 L1200.38,1522.2 L1202.36,1522.5 L1204.35,1522.8 L1206.33,1523.1 L1208.32,1523.4 L1210.30,1523.6 L1212.29,1523.9 L1214.28,1524.1 L1216.26,1524.4 L1218.25,1524.6 L1220.24,1524.9 L1222.23,1525.1 L1224.22,1525.4 L1226.21,1525.6 L1228.20,1525.8 L1230.20,1526.0 L1232.19,1526.2 L1234.18,1526.4 L1236.18,1526.6 L1238.17,1526.8 L1240.16,1527.0 L1242.16,1527.2 L1244.16,1527.4 L1246.15,1527.6 L1248.15,1527.7 L1250.15,1527.9 L1252.14,1528.1 L1254.14,1528.2 L1256.14,1528.4 L1258.14,1528.5 L1260.13,1528.7 L1262.13,1528.8 L1264.13,1528.9 L1266.13,1529.1 L1268.13,1529.2 L1270.13,1529.3 L1272.13,1529.4 L1274.13,1529.6 L1276.13,1529.7 L1278.14,1529.8 L1280.14,1529.9 L1282.14,1530.0 L1284.14,1530.0 L1286.14,1530.1 L1288.14,1530.2 L1290.15,1530.3 L1292.15,1530.4 L1294.15,1530.4 L1296.16,1530.5 L1298.16,1530.6 L1300.16,1530.6 L1302.16,1530.7 L1304.17,1530.7 L1306.17,1530.8 L1308.17,1530.8 L1310.18,1530.9 L1312.18,1530.9 L1314.18,1530.9 L1316.19,1531.0 L1318.19,1531.0 L1320.20,1531.0 L1322.20,1531.0 L1324.20,1531.0 L1326.21,1531.0 L1328.21,1531.0 L1330.21,1531.0 L1332.22,1531.0 L1334.22,1531.0 L1336.23,1531.0 L1338.23,1531.0 L1340.23,1531.0 L1342.24,1531.0 L1344.24,1531.0 L1346.25,1530.9 L1348.25,1530.9" fill="none" stroke="#808000" stroke-width="7" stroke-linecap="round" stroke-linejoin="round"/>
</g>
<!-- arrows -->
<g fill="#0000FF" stroke="none">
<line x1="427.5" y1="290.9" x2="250" y2="266.5" stroke="#0000FF" stroke-width="3"/>
<polygon points="213.9,261 255,256.6 252.9,277.3 213.9,264.2"/>
<line x1="660.3" y1="1177.4" x2="668.6" y2="1400" stroke="#0000FF" stroke-width="3"/>
<polygon points="657.8,1397.8 679.2,1397.8 672.8,1433.2 666.2,1433.2"/>
</g>
<!-- axis -->
<g stroke="#000" fill="none" stroke-linecap="round">
<path d="M101.5,1555 H2032.5" stroke-width="6"/>
<path d="M101.5,1555V1584.3 M487.7,1555V1584.3 M873.9,1555V1584.3 M1260.1,1555V1584.3 M1646.3,1555V1584.3 M2032.5,1555V1584.3" stroke-width="7"/>
<path d="M294.6,1555V1569.4 M680.8,1555V1569.4 M1067,1555V1569.4 M1453.2,1555V1569.4 M1839.4,1555V1569.4" stroke-width="7"/>
</g>
<g font-size="82" fill="#000" text-anchor="middle">
<text x="101.5" y="1668">200</text>
<text x="487.6" y="1668">250</text>
<text x="873.7" y="1668">300</text>
<text x="1259.8" y="1668">350</text>
<text x="1645.9" y="1668">400</text>
<text x="2032" y="1668">450</text>
</g>
<text y="1821" fill="#000"><tspan x="949" font-size="86" font-family="'Noto Serif CJK SC','Liberation Serif',serif" textLength="54" lengthAdjust="spacingAndGlyphs">λ</tspan><tspan x="1001" font-size="86" font-family="'Noto Serif CJK SC','Liberation Serif',serif">,</tspan><tspan x="1023" font-size="98"> nm</tspan></text>
<!-- annotations -->
<g font-size="82">
<text x="152" y="109" fill="#000">214.88</text>
<text x="155" y="205.8" fill="#000" textLength="237" lengthAdjust="spacing">(~225)</text>
<text x="447" y="270" fill="#0000FF">212.76</text>
<text x="450" y="367.1" fill="#0000FF" textLength="236.3" lengthAdjust="spacing">(~210)</text>
<text x="539" y="1060" fill="#0000FF">275.86</text>
<text x="541.8" y="1156.6" fill="#0000FF" textLength="236.5" lengthAdjust="spacing">(~275)</text>
<text x="868.7" y="1318.8" fill="#808000" textLength="248.4" lengthAdjust="spacing">313.74</text>
<text x="869.2" y="1416.3" fill="#808000" textLength="369.1" lengthAdjust="spacing">(303; 300)</text>
<text x="1251" y="1378" fill="#000">296.89</text>
<text x="1253.4" y="1474.2" fill="#000" textLength="236.9" lengthAdjust="spacing">(~310)</text>
</g>
<!-- legend -->
<rect x="1232.5" y="163.5" width="932" height="783" fill="none" stroke="#000" stroke-width="3"/>
<g stroke-width="7" stroke-linecap="round">
<line x1="1244.5" y1="216.7" x2="1424.5" y2="216.7" stroke="#000"/>
<line transform="scale(1.025,1)" x1="1214.24" y1="348.4" x2="1389.66" y2="348.4" stroke="#FF0000" stroke-dasharray="22 30.88"/>
<line x1="1244.5" y1="479.1" x2="1424.5" y2="479.1" stroke="#0000FF"/>
<line x1="1244.5" y1="610.4" x2="1424.5" y2="610.4" stroke="#FF00FF"/>
<line x1="1244.5" y1="741.6" x2="1424.5" y2="741.6" stroke="#008000"/>
<line x1="1244.5" y1="872.8" x2="1424.5" y2="872.8" stroke="#808000"/>
</g>
<g font-size="82" fill="#000">
<text x="1446" y="243.7" textLength="447.6" lengthAdjust="spacing">[AuCl<tspan font-size="49" dy="27.6">3</tspan><tspan dy="-27.6">(NH</tspan><tspan font-size="49" dy="27.6">3</tspan><tspan dy="-27.6">)]</tspan></text>
<text x="1447.6" y="374.9" textLength="628.2" lengthAdjust="spacing"><tspan font-style="italic">cis</tspan>-[AuCl<tspan font-size="49" dy="27.6">2</tspan><tspan dy="-27.6">(NH</tspan><tspan font-size="49" dy="27.6">3</tspan><tspan dy="-27.6">)</tspan><tspan font-size="49" dy="27.6">2</tspan><tspan dy="-27.6">]</tspan><tspan font-size="49" dy="-39">+</tspan></text>
<text x="1448.1" y="506.1" textLength="707.4" lengthAdjust="spacing"><tspan font-style="italic">trans</tspan>-[AuCl<tspan font-size="49" dy="27.6">2</tspan><tspan dy="-27.6">(NH</tspan><tspan font-size="49" dy="27.6">3</tspan><tspan dy="-27.6">)</tspan><tspan font-size="49" dy="27.6">2</tspan><tspan dy="-27.6">]</tspan><tspan font-size="49" dy="-39">+</tspan></text>
<text x="1446" y="637.4" textLength="504" lengthAdjust="spacing">[AuCl(NH<tspan font-size="49" dy="27.6">3</tspan><tspan dy="-27.6">)</tspan><tspan font-size="49" dy="27.6">3</tspan><tspan dy="-27.6">]</tspan><tspan font-size="49" dy="-39">2+</tspan></text>
<text x="1446" y="768.6" textLength="426.3" lengthAdjust="spacing">[Au(NH<tspan font-size="49" dy="27.6">3</tspan><tspan dy="-27.6">)</tspan><tspan font-size="49" dy="27.6">4</tspan><tspan dy="-27.6">]</tspan><tspan font-size="49" dy="-39">3+</tspan></text>
<text x="1446" y="899.8" textLength="624.7" lengthAdjust="spacing">[Au(NH<tspan font-size="49" dy="27.6">3</tspan><tspan dy="-27.6">)</tspan><tspan font-size="49" dy="27.6">3</tspan><tspan dy="-27.6">(NH</tspan><tspan font-size="49" dy="27.6">2</tspan><tspan dy="-27.6">)]</tspan><tspan font-size="49" dy="-39">2+</tspan></text>
</g>
</svg>
</body></html>
